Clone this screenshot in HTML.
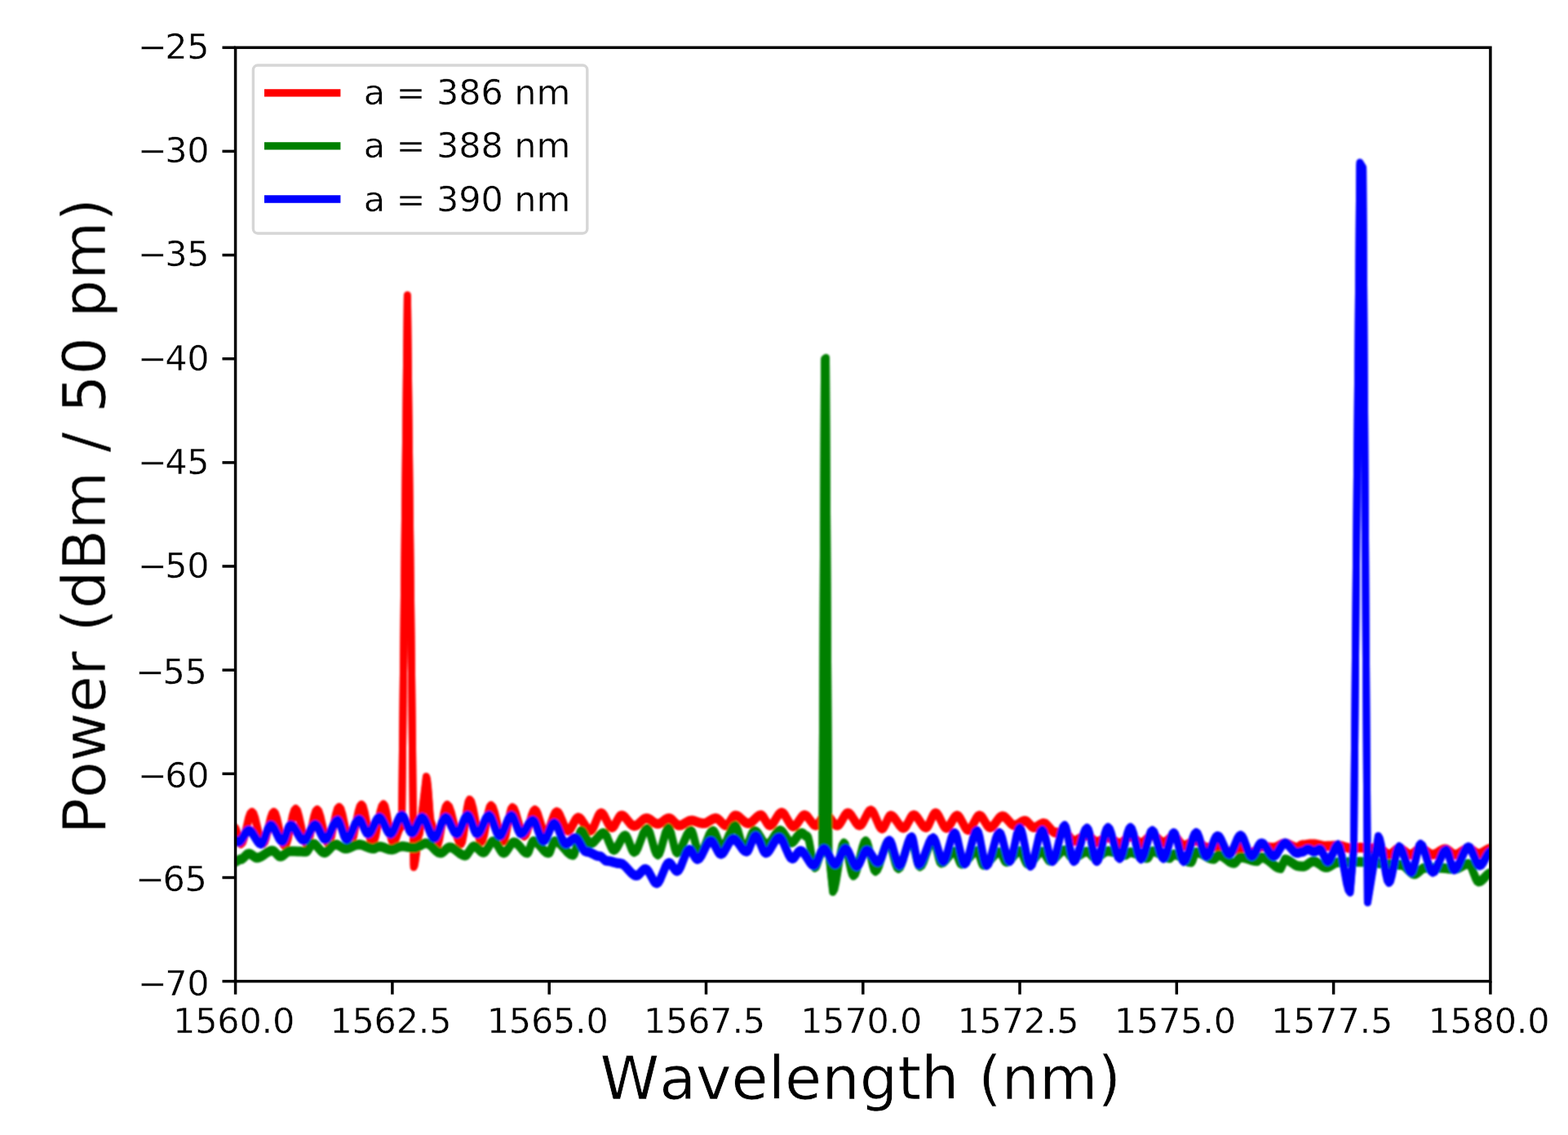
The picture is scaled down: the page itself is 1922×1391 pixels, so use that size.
<!DOCTYPE html>
<html lang="en"><head><meta charset="utf-8"><title>Power spectrum vs wavelength</title>
<style>
html,body{margin:0;padding:0;background:#fff;}
body{width:1922px;height:1391px;overflow:hidden;}
svg{display:block;}
text{font-family:"DejaVu Sans","Liberation Sans",sans-serif;fill:#000;}
.tk{font-size:43.0px;letter-spacing:-0.25px;stroke:#fff;stroke-width:0.4px;paint-order:fill stroke;}
.lg{font-size:43.0px;letter-spacing:-0.12px;stroke:#fff;stroke-width:0.4px;paint-order:fill stroke;}
.lb{font-size:73.4px;font-kerning:none;stroke:#fff;stroke-width:0.7px;paint-order:fill stroke;}
.sp{stroke:#000;stroke-width:3.50;fill:none;stroke-linecap:square;}
.t{stroke:#000;stroke-width:3.50;fill:none;}
.c{fill:none;stroke-width:9.00;stroke-linejoin:round;stroke-linecap:butt;}
</style></head><body>
<svg width="1922" height="1391" viewBox="0 0 1922 1391" role="img" aria-label="Power spectrum versus wavelength">
<defs><clipPath id="ax"><rect x="288.6" y="58.3" width="1538.3" height="1144.3"/></clipPath>
<filter id="soft" x="-2%" y="-2%" width="104%" height="104%"><feGaussianBlur stdDeviation="1.1"/></filter>
<filter id="soft2" x="-2%" y="-2%" width="104%" height="104%"><feGaussianBlur stdDeviation="0.75"/></filter></defs>
<rect width="1922" height="1391" fill="#fff"/>
<g filter="url(#soft)">
<g clip-path="url(#ax)">
<path class="c" stroke="#ff0000" d="M287.0 1013.5 L287.5 1013.5 L288.7 1014.5 L289.9 1017.3 L291.4 1022.7 L293.0 1028.2 L294.2 1031.0 L295.4 1032.0 L297.4 1029.9 L299.4 1024.2 L302.1 1013.2 L304.7 1002.1 L306.7 996.4 L308.8 994.4 L310.8 996.4 L312.8 1002.1 L315.5 1013.2 L318.2 1024.2 L320.2 1029.9 L322.2 1032.0 L324.3 1029.9 L326.3 1024.2 L328.9 1013.2 L331.6 1002.1 L333.6 996.4 L335.6 994.4 L337.6 996.6 L339.6 1002.7 L342.3 1014.4 L345.0 1026.2 L347.0 1032.3 L349.0 1034.5 L351.0 1032.1 L353.1 1025.4 L355.8 1012.6 L358.4 999.7 L360.5 993.0 L362.5 990.6 L364.5 992.9 L366.4 999.2 L369.1 1011.3 L371.7 1023.5 L373.7 1029.7 L375.6 1032.0 L377.6 1029.8 L379.6 1023.7 L382.2 1011.8 L384.8 1000.0 L386.8 993.8 L388.8 991.6 L390.8 993.8 L392.8 999.8 L395.5 1011.5 L398.2 1023.2 L400.2 1029.2 L402.2 1031.3 L404.3 1029.0 L406.3 1022.5 L408.9 1009.9 L411.6 997.3 L413.6 990.7 L415.6 988.4 L417.7 990.7 L419.8 997.3 L422.5 1009.9 L425.2 1022.5 L427.3 1029.0 L429.4 1031.3 L431.4 1028.8 L433.5 1021.9 L436.2 1008.4 L439.0 994.9 L441.1 987.9 L443.1 985.4 L445.1 987.9 L447.1 994.9 L449.8 1008.4 L452.5 1021.9 L454.5 1028.8 L456.5 1031.3 L458.5 1028.8 L460.6 1021.8 L463.2 1008.2 L465.9 994.6 L468.0 987.5 L470.0 985.0 L471.8 987.5 L473.6 994.3 L475.9 1007.6 L478.3 1020.8 L480.1 1027.6 L481.9 1030.1 L483.5 1029.0 L485.1 1026.1 L487.2 1020.3 L489.3 1014.5 L490.9 1011.6 L492.5 1010.5 L499.4 361.4 L507.1 1060.0 L508.2 1057.7 L509.3 1051.4 L510.8 1039.2 L512.3 1027.1 L513.4 1020.8 L514.5 1018.5 L522.5 951.4 L523.5 954.5 L524.5 963.2 L525.8 979.9 L527.0 996.7 L528.0 1005.4 L529.0 1008.5 L529.8 1010.1 L530.6 1014.4 L531.8 1022.8 L532.9 1031.1 L533.7 1035.4 L534.5 1037.0 L536.5 1034.2 L538.6 1026.4 L541.3 1011.3 L544.0 996.2 L546.1 988.4 L548.1 985.6 L550.7 988.2 L553.2 995.2 L556.6 1008.8 L559.9 1022.4 L562.5 1029.5 L565.0 1032.0 L566.6 1029.1 L568.2 1021.1 L570.3 1005.7 L572.4 990.2 L574.0 982.3 L575.6 979.4 L577.8 982.1 L579.9 989.7 L582.8 1004.4 L585.7 1019.2 L587.8 1026.7 L590.0 1029.5 L591.8 1027.1 L593.6 1020.6 L595.9 1007.9 L598.3 995.2 L600.1 988.6 L601.9 986.3 L604.1 988.6 L606.4 995.1 L609.4 1007.6 L612.4 1020.1 L614.6 1026.5 L616.9 1028.8 L618.6 1026.7 L620.2 1020.6 L622.5 1008.8 L624.8 997.0 L626.4 991.0 L628.1 988.8 L630.3 990.6 L632.4 995.7 L635.3 1005.7 L638.2 1015.6 L640.3 1020.8 L642.5 1022.6 L644.5 1020.9 L646.4 1016.2 L649.1 1007.1 L651.7 998.0 L653.7 993.3 L655.6 991.6 L657.6 993.2 L659.6 997.5 L662.2 1005.9 L664.8 1014.2 L666.8 1018.5 L668.8 1020.1 L670.8 1018.7 L672.9 1014.7 L675.6 1006.9 L678.4 999.2 L680.4 995.2 L682.5 993.8 L684.6 995.0 L686.6 998.4 L689.4 1005.1 L692.1 1011.7 L694.2 1015.1 L696.2 1016.4 L698.1 1015.5 L700.0 1013.1 L702.5 1008.5 L705.0 1003.9 L706.9 1001.5 L708.8 1000.6 L711.0 1001.5 L713.2 1003.9 L716.2 1008.5 L719.2 1013.1 L721.5 1015.5 L723.8 1016.4 L725.7 1015.2 L727.7 1012.0 L730.3 1005.7 L732.9 999.4 L734.9 996.2 L736.9 995.0 L738.8 996.0 L740.8 998.6 L743.4 1003.8 L746.1 1009.0 L748.0 1011.6 L750.0 1012.6 L751.8 1011.8 L753.6 1009.6 L755.9 1005.2 L758.3 1000.9 L760.1 998.7 L761.9 997.9 L764.2 998.6 L766.6 1000.5 L769.7 1004.3 L772.8 1008.1 L775.2 1010.0 L777.5 1010.7 L779.8 1010.2 L782.0 1008.8 L785.0 1006.0 L788.0 1003.2 L790.2 1001.8 L792.5 1001.3 L794.6 1001.7 L796.6 1002.7 L799.4 1004.8 L802.1 1006.8 L804.2 1007.8 L806.2 1008.2 L808.3 1007.8 L810.4 1006.8 L813.1 1004.8 L815.9 1002.7 L817.9 1001.7 L820.0 1001.3 L821.9 1001.8 L823.8 1003.1 L826.2 1005.7 L828.8 1008.3 L830.6 1009.6 L832.5 1010.1 L834.8 1009.8 L837.0 1008.9 L840.0 1007.1 L843.0 1005.4 L845.2 1004.5 L847.5 1004.1 L849.8 1004.3 L852.0 1004.9 L855.0 1005.9 L858.0 1006.9 L860.2 1007.4 L862.5 1007.6 L864.8 1007.3 L867.0 1006.3 L870.0 1004.4 L873.0 1002.6 L875.2 1001.6 L877.5 1001.3 L879.4 1001.8 L881.2 1003.1 L883.8 1005.7 L886.2 1008.3 L888.1 1009.6 L890.0 1010.1 L891.7 1009.4 L893.4 1007.6 L895.6 1004.0 L897.9 1000.4 L899.6 998.6 L901.2 997.9 L903.7 998.4 L906.1 999.9 L909.4 1002.8 L912.6 1005.6 L915.1 1007.1 L917.5 1007.6 L919.8 1007.1 L922.0 1005.5 L925.0 1002.6 L928.0 999.6 L930.2 998.1 L932.5 997.5 L934.2 998.2 L935.9 1000.1 L938.1 1003.8 L940.4 1007.5 L942.1 1009.4 L943.8 1010.1 L945.9 1009.2 L948.1 1006.9 L950.9 1002.2 L953.8 997.6 L956.0 995.3 L958.1 994.4 L960.3 995.3 L962.4 997.9 L965.3 1002.9 L968.2 1007.9 L970.3 1010.4 L972.5 1011.4 L974.6 1010.6 L976.6 1008.5 L979.4 1004.4 L982.1 1000.4 L984.2 998.3 L986.2 997.5 L988.3 998.2 L990.4 1000.1 L993.1 1003.8 L995.9 1007.5 L997.9 1009.4 L1000.0 1010.1 L1001.8 1009.4 L1003.6 1007.4 L1005.9 1003.5 L1008.3 999.6 L1010.1 997.6 L1011.9 996.9 L1014.0 997.6 L1016.2 999.6 L1019.1 1003.5 L1021.9 1007.4 L1024.1 1009.4 L1026.2 1010.1 L1028.2 1009.3 L1030.2 1007.0 L1032.8 1002.6 L1035.4 998.1 L1037.4 995.8 L1039.4 995.0 L1041.5 995.8 L1043.7 998.1 L1046.6 1002.6 L1049.4 1007.0 L1051.6 1009.3 L1053.8 1010.1 L1055.8 1009.1 L1057.9 1006.3 L1060.6 1001.0 L1063.4 995.7 L1065.4 992.9 L1067.5 991.9 L1069.6 993.1 L1071.6 996.4 L1074.4 1002.9 L1077.1 1009.3 L1079.2 1012.7 L1081.2 1013.9 L1082.8 1013.0 L1084.4 1010.6 L1086.6 1006.0 L1088.7 1001.4 L1090.3 999.0 L1091.9 998.1 L1094.2 999.0 L1096.6 1001.3 L1099.7 1005.7 L1102.8 1010.1 L1105.2 1012.4 L1107.5 1013.2 L1109.4 1012.4 L1111.2 1010.0 L1113.8 1005.4 L1116.2 1000.8 L1118.1 998.4 L1120.0 997.5 L1122.2 998.3 L1124.5 1000.6 L1127.5 1005.1 L1130.5 1009.5 L1132.8 1011.8 L1135.0 1012.6 L1136.8 1011.6 L1138.6 1009.0 L1140.9 1003.8 L1143.3 998.6 L1145.1 996.0 L1146.9 995.0 L1148.8 996.0 L1150.8 998.8 L1153.4 1004.1 L1156.1 1009.5 L1158.0 1012.2 L1160.0 1013.2 L1162.0 1012.4 L1163.9 1010.1 L1166.6 1005.7 L1169.2 1001.3 L1171.2 999.0 L1173.1 998.1 L1175.2 999.1 L1177.2 1001.8 L1180.0 1006.9 L1182.8 1012.1 L1184.8 1014.8 L1186.9 1015.7 L1188.9 1014.8 L1191.0 1012.1 L1193.8 1006.9 L1196.5 1001.8 L1198.6 999.1 L1200.6 998.1 L1202.6 998.9 L1204.6 1001.1 L1207.2 1005.4 L1209.8 1009.6 L1211.8 1011.8 L1213.8 1012.6 L1216.0 1011.8 L1218.2 1009.8 L1221.2 1005.7 L1224.2 1001.6 L1226.5 999.5 L1228.8 998.8 L1231.0 999.4 L1233.2 1001.1 L1236.2 1004.4 L1239.2 1007.8 L1241.5 1009.5 L1243.8 1010.1 L1245.6 1009.8 L1247.5 1008.9 L1250.0 1007.2 L1252.5 1005.6 L1254.4 1004.7 L1256.2 1004.4 L1257.9 1004.8 L1259.6 1006.1 L1261.9 1008.5 L1264.1 1010.9 L1265.8 1012.2 L1267.5 1012.6 L1269.3 1012.3 L1271.1 1011.6 L1273.4 1010.1 L1275.8 1008.6 L1277.6 1007.8 L1279.4 1007.5 L1281.5 1008.1 L1283.7 1009.9 L1286.6 1013.2 L1289.4 1016.5 L1291.6 1018.2 L1293.8 1018.9 L1295.4 1018.8 L1297.1 1018.8 L1299.4 1018.7 L1301.6 1018.6 L1303.3 1018.5 L1305.0 1018.5 L1306.7 1019.1 L1308.4 1020.7 L1310.6 1023.8 L1312.9 1026.9 L1314.6 1028.5 L1316.2 1029.1 L1318.7 1028.8 L1321.1 1027.7 L1324.4 1025.7 L1327.6 1023.7 L1330.1 1022.6 L1332.5 1022.2 L1334.3 1022.7 L1336.1 1023.9 L1338.4 1026.3 L1340.8 1028.7 L1342.6 1029.9 L1344.4 1030.4 L1346.4 1030.1 L1348.5 1029.2 L1351.2 1027.6 L1354.0 1025.9 L1356.1 1025.1 L1358.1 1024.8 L1360.3 1025.2 L1362.4 1026.3 L1365.3 1028.5 L1368.2 1030.7 L1370.3 1031.8 L1372.5 1032.2 L1374.5 1031.8 L1376.4 1030.4 L1379.1 1027.9 L1381.7 1025.3 L1383.7 1024.0 L1385.6 1023.5 L1387.6 1023.9 L1389.6 1025.2 L1392.2 1027.6 L1394.8 1030.0 L1396.8 1031.2 L1398.8 1031.6 L1400.8 1031.1 L1402.9 1029.7 L1405.6 1026.9 L1408.4 1024.2 L1410.4 1022.8 L1412.5 1022.2 L1414.6 1022.7 L1416.6 1024.1 L1419.4 1026.6 L1422.1 1029.2 L1424.2 1030.5 L1426.2 1031.0 L1428.1 1030.6 L1430.0 1029.5 L1432.5 1027.2 L1435.0 1025.0 L1436.9 1023.9 L1438.8 1023.5 L1440.6 1024.1 L1442.5 1025.8 L1445.0 1029.1 L1447.5 1032.4 L1449.4 1034.1 L1451.2 1034.8 L1453.5 1034.4 L1455.8 1033.5 L1458.8 1031.6 L1461.8 1029.8 L1464.0 1028.8 L1466.2 1028.5 L1468.1 1029.0 L1470.0 1030.3 L1472.5 1032.9 L1475.0 1035.4 L1476.9 1036.8 L1478.8 1037.2 L1480.8 1037.2 L1482.9 1037.0 L1485.6 1036.6 L1488.4 1036.3 L1490.4 1036.1 L1492.5 1036.0 L1494.7 1036.3 L1496.8 1037.3 L1499.7 1039.1 L1502.6 1041.0 L1504.7 1041.9 L1506.9 1042.2 L1508.9 1042.0 L1511.0 1041.2 L1513.8 1039.8 L1516.5 1038.3 L1518.6 1037.5 L1520.6 1037.2 L1522.7 1037.6 L1524.8 1038.5 L1527.5 1040.4 L1530.2 1042.2 L1532.3 1043.2 L1534.4 1043.5 L1536.2 1043.1 L1537.9 1042.0 L1540.3 1039.8 L1542.7 1037.5 L1544.5 1036.4 L1546.2 1036.0 L1548.5 1036.1 L1550.8 1036.3 L1553.8 1036.6 L1556.8 1037.0 L1559.0 1037.2 L1561.2 1037.2 L1563.3 1037.0 L1565.4 1036.2 L1568.1 1034.8 L1570.9 1033.3 L1572.9 1032.5 L1575.0 1032.2 L1577.2 1032.5 L1579.5 1033.3 L1582.5 1034.8 L1585.5 1036.2 L1587.8 1037.0 L1590.0 1037.2 L1590.9 1037.1 L1591.9 1036.6 L1593.1 1035.7 L1594.4 1034.8 L1595.3 1034.3 L1596.2 1034.1 L1598.1 1034.1 L1600.0 1033.9 L1602.5 1033.5 L1605.0 1033.1 L1606.9 1032.9 L1608.8 1032.9 L1611.2 1033.0 L1613.6 1033.4 L1616.9 1034.1 L1620.1 1034.9 L1622.6 1035.2 L1625.0 1035.4 L1627.2 1035.3 L1629.5 1035.2 L1632.5 1035.1 L1635.5 1034.9 L1637.8 1034.8 L1640.0 1034.8 L1642.2 1034.9 L1644.5 1035.4 L1647.5 1036.3 L1650.5 1037.2 L1652.8 1037.7 L1655.0 1037.9 L1656.9 1037.8 L1658.8 1037.7 L1661.2 1037.6 L1663.8 1037.4 L1665.6 1037.3 L1667.5 1037.2 L1669.0 1037.3 L1670.5 1037.5 L1672.5 1037.9 L1674.5 1038.2 L1676.0 1038.4 L1677.5 1038.5 L1679.3 1038.4 L1681.1 1038.2 L1683.4 1037.9 L1685.8 1037.5 L1687.6 1037.3 L1689.4 1037.2 L1691.3 1037.7 L1693.3 1039.0 L1695.9 1041.5 L1698.6 1044.0 L1700.5 1045.3 L1702.5 1045.8 L1704.4 1045.4 L1706.2 1044.3 L1708.8 1042.1 L1711.2 1040.0 L1713.1 1038.9 L1715.0 1038.5 L1717.1 1038.9 L1719.1 1040.0 L1721.9 1042.1 L1724.6 1044.3 L1726.7 1045.4 L1728.8 1045.8 L1730.6 1045.4 L1732.5 1044.3 L1735.0 1042.1 L1737.5 1040.0 L1739.4 1038.9 L1741.2 1038.5 L1743.5 1038.9 L1745.8 1040.0 L1748.8 1042.1 L1751.8 1044.3 L1754.0 1045.4 L1756.2 1045.8 L1758.5 1045.4 L1760.8 1044.4 L1763.8 1042.4 L1766.8 1040.5 L1769.0 1039.5 L1771.2 1039.1 L1773.1 1039.5 L1775.0 1040.5 L1777.5 1042.4 L1780.0 1044.4 L1781.9 1045.4 L1783.8 1045.8 L1786.2 1045.4 L1788.6 1044.3 L1791.9 1042.1 L1795.1 1040.0 L1797.6 1038.9 L1800.0 1038.5 L1801.9 1038.8 L1803.8 1039.8 L1806.2 1041.6 L1808.8 1043.5 L1810.6 1044.4 L1812.5 1044.8 L1814.8 1044.4 L1817.0 1043.5 L1820.0 1041.6 L1823.0 1039.8 L1825.2 1038.8 L1827.5 1038.5 L1829.0 1038.5"/>
<path class="c" stroke="#ff0000" d="M287.0 1016.5 L287.5 1016.5 L288.7 1017.5 L289.9 1020.3 L291.4 1025.7 L293.0 1031.2 L294.2 1034.0 L295.4 1035.0 L297.4 1032.9 L299.4 1027.2 L302.1 1016.2 L304.7 1005.1 L306.7 999.4 L308.8 997.4 L310.8 999.4 L312.8 1005.1 L315.5 1016.2 L318.2 1027.2 L320.2 1032.9 L322.2 1035.0 L324.3 1032.9 L326.3 1027.2 L328.9 1016.2 L331.6 1005.1 L333.6 999.4 L335.6 997.4 L337.6 999.6 L339.6 1005.7 L342.3 1017.4 L345.0 1029.2 L347.0 1035.3 L349.0 1037.5 L351.0 1035.1 L353.1 1028.4 L355.8 1015.6 L358.4 1002.7 L360.5 996.0 L362.5 993.6 L364.5 995.9 L366.4 1002.2 L369.1 1014.3 L371.7 1026.5 L373.7 1032.7 L375.6 1035.0 L377.6 1032.8 L379.6 1026.7 L382.2 1014.8 L384.8 1003.0 L386.8 996.8 L388.8 994.6 L390.8 996.8 L392.8 1002.8 L395.5 1014.5 L398.2 1026.2 L400.2 1032.2 L402.2 1034.3 L404.3 1032.0 L406.3 1025.5 L408.9 1012.9 L411.6 1000.3 L413.6 993.7 L415.6 991.4 L417.7 993.7 L419.8 1000.3 L422.5 1012.9 L425.2 1025.5 L427.3 1032.0 L429.4 1034.3 L431.4 1031.8 L433.5 1024.9 L436.2 1011.4 L439.0 997.9 L441.1 990.9 L443.1 988.4 L445.1 990.9 L447.1 997.9 L449.8 1011.4 L452.5 1024.9 L454.5 1031.8 L456.5 1034.3 L458.5 1031.8 L460.6 1024.8 L463.2 1011.2 L465.9 997.6 L468.0 990.5 L470.0 988.0 L471.8 990.5 L473.6 997.3 L475.9 1010.6 L478.3 1023.8 L480.1 1030.6 L481.9 1033.1 L483.5 1032.0 L485.1 1029.1 L487.2 1023.3 L489.3 1017.5 L490.9 1014.6 L492.5 1013.5 L499.4 364.4 L507.1 1063.0 L508.2 1060.7 L509.3 1054.4 L510.8 1042.2 L512.3 1030.1 L513.4 1023.8 L514.5 1021.5 L522.5 954.4 L523.5 957.5 L524.5 966.2 L525.8 982.9 L527.0 999.7 L528.0 1008.4 L529.0 1011.5 L529.8 1013.1 L530.6 1017.4 L531.8 1025.8 L532.9 1034.1 L533.7 1038.4 L534.5 1040.0 L536.5 1037.2 L538.6 1029.4 L541.3 1014.3 L544.0 999.2 L546.1 991.4 L548.1 988.6 L550.7 991.2 L553.2 998.2 L556.6 1011.8 L559.9 1025.4 L562.5 1032.5 L565.0 1035.0 L566.6 1032.1 L568.2 1024.1 L570.3 1008.7 L572.4 993.2 L574.0 985.3 L575.6 982.4 L577.8 985.1 L579.9 992.7 L582.8 1007.4 L585.7 1022.2 L587.8 1029.7 L590.0 1032.5 L591.8 1030.1 L593.6 1023.6 L595.9 1010.9 L598.3 998.2 L600.1 991.6 L601.9 989.3 L604.1 991.6 L606.4 998.1 L609.4 1010.6 L612.4 1023.1 L614.6 1029.5 L616.9 1031.8 L618.6 1029.7 L620.2 1023.6 L622.5 1011.8 L624.8 1000.0 L626.4 994.0 L628.1 991.8 L630.3 993.6 L632.4 998.7 L635.3 1008.7 L638.2 1018.6 L640.3 1023.8 L642.5 1025.6 L644.5 1023.9 L646.4 1019.2 L649.1 1010.1 L651.7 1001.0 L653.7 996.3 L655.6 994.6 L657.6 996.2 L659.6 1000.5 L662.2 1008.9 L664.8 1017.2 L666.8 1021.5 L668.8 1023.1 L670.8 1021.7 L672.9 1017.7 L675.6 1009.9 L678.4 1002.2 L680.4 998.2 L682.5 996.8 L684.6 998.0 L686.6 1001.4 L689.4 1008.1 L692.1 1014.7 L694.2 1018.1 L696.2 1019.4 L698.1 1018.5 L700.0 1016.1 L702.5 1011.5 L705.0 1006.9 L706.9 1004.5 L708.8 1003.6 L711.0 1004.5 L713.2 1006.9 L716.2 1011.5 L719.2 1016.1 L721.5 1018.5 L723.8 1019.4 L725.7 1018.2 L727.7 1015.0 L730.3 1008.7 L732.9 1002.4 L734.9 999.2 L736.9 998.0 L738.8 999.0 L740.8 1001.6 L743.4 1006.8 L746.1 1012.0 L748.0 1014.6 L750.0 1015.6 L751.8 1014.8 L753.6 1012.6 L755.9 1008.2 L758.3 1003.9 L760.1 1001.7 L761.9 1000.9 L764.2 1001.6 L766.6 1003.5 L769.7 1007.3 L772.8 1011.1 L775.2 1013.0 L777.5 1013.7 L779.8 1013.2 L782.0 1011.8 L785.0 1009.0 L788.0 1006.2 L790.2 1004.8 L792.5 1004.3 L794.6 1004.7 L796.6 1005.7 L799.4 1007.8 L802.1 1009.8 L804.2 1010.8 L806.2 1011.2 L808.3 1010.8 L810.4 1009.8 L813.1 1007.8 L815.9 1005.7 L817.9 1004.7 L820.0 1004.3 L821.9 1004.8 L823.8 1006.1 L826.2 1008.7 L828.8 1011.3 L830.6 1012.6 L832.5 1013.1 L834.8 1012.8 L837.0 1011.9 L840.0 1010.1 L843.0 1008.4 L845.2 1007.5 L847.5 1007.1 L849.8 1007.3 L852.0 1007.9 L855.0 1008.9 L858.0 1009.9 L860.2 1010.4 L862.5 1010.6 L864.8 1010.3 L867.0 1009.3 L870.0 1007.4 L873.0 1005.6 L875.2 1004.6 L877.5 1004.3 L879.4 1004.8 L881.2 1006.1 L883.8 1008.7 L886.2 1011.3 L888.1 1012.6 L890.0 1013.1 L891.7 1012.4 L893.4 1010.6 L895.6 1007.0 L897.9 1003.4 L899.6 1001.6 L901.2 1000.9 L903.7 1001.4 L906.1 1002.9 L909.4 1005.8 L912.6 1008.6 L915.1 1010.1 L917.5 1010.6 L919.8 1010.1 L922.0 1008.5 L925.0 1005.6 L928.0 1002.6 L930.2 1001.1 L932.5 1000.5 L934.2 1001.2 L935.9 1003.1 L938.1 1006.8 L940.4 1010.5 L942.1 1012.4 L943.8 1013.1 L945.9 1012.2 L948.1 1009.9 L950.9 1005.2 L953.8 1000.6 L956.0 998.3 L958.1 997.4 L960.3 998.3 L962.4 1000.9 L965.3 1005.9 L968.2 1010.9 L970.3 1013.4 L972.5 1014.4 L974.6 1013.6 L976.6 1011.5 L979.4 1007.4 L982.1 1003.4 L984.2 1001.3 L986.2 1000.5 L988.3 1001.2 L990.4 1003.1 L993.1 1006.8 L995.9 1010.5 L997.9 1012.4 L1000.0 1013.1 L1001.8 1012.4 L1003.6 1010.4 L1005.9 1006.5 L1008.3 1002.6 L1010.1 1000.6 L1011.9 999.9 L1014.0 1000.6 L1016.2 1002.6 L1019.1 1006.5 L1021.9 1010.4 L1024.1 1012.4 L1026.2 1013.1 L1028.2 1012.3 L1030.2 1010.0 L1032.8 1005.6 L1035.4 1001.1 L1037.4 998.8 L1039.4 998.0 L1041.5 998.8 L1043.7 1001.1 L1046.6 1005.6 L1049.4 1010.0 L1051.6 1012.3 L1053.8 1013.1 L1055.8 1012.1 L1057.9 1009.3 L1060.6 1004.0 L1063.4 998.7 L1065.4 995.9 L1067.5 994.9 L1069.6 996.1 L1071.6 999.4 L1074.4 1005.9 L1077.1 1012.3 L1079.2 1015.7 L1081.2 1016.9 L1082.8 1016.0 L1084.4 1013.6 L1086.6 1009.0 L1088.7 1004.4 L1090.3 1002.0 L1091.9 1001.1 L1094.2 1002.0 L1096.6 1004.3 L1099.7 1008.7 L1102.8 1013.1 L1105.2 1015.4 L1107.5 1016.2 L1109.4 1015.4 L1111.2 1013.0 L1113.8 1008.4 L1116.2 1003.8 L1118.1 1001.4 L1120.0 1000.5 L1122.2 1001.3 L1124.5 1003.6 L1127.5 1008.1 L1130.5 1012.5 L1132.8 1014.8 L1135.0 1015.6 L1136.8 1014.6 L1138.6 1012.0 L1140.9 1006.8 L1143.3 1001.6 L1145.1 999.0 L1146.9 998.0 L1148.8 999.0 L1150.8 1001.8 L1153.4 1007.1 L1156.1 1012.5 L1158.0 1015.2 L1160.0 1016.2 L1162.0 1015.4 L1163.9 1013.1 L1166.6 1008.7 L1169.2 1004.3 L1171.2 1002.0 L1173.1 1001.1 L1175.2 1002.1 L1177.2 1004.8 L1180.0 1009.9 L1182.8 1015.1 L1184.8 1017.8 L1186.9 1018.7 L1188.9 1017.8 L1191.0 1015.1 L1193.8 1009.9 L1196.5 1004.8 L1198.6 1002.1 L1200.6 1001.1 L1202.6 1001.9 L1204.6 1004.1 L1207.2 1008.4 L1209.8 1012.6 L1211.8 1014.8 L1213.8 1015.6 L1216.0 1014.8 L1218.2 1012.8 L1221.2 1008.7 L1224.2 1004.6 L1226.5 1002.5 L1228.8 1001.8 L1231.0 1002.4 L1233.2 1004.1 L1236.2 1007.4 L1239.2 1010.8 L1241.5 1012.5 L1243.8 1013.1 L1245.6 1012.8 L1247.5 1011.9 L1250.0 1010.2 L1252.5 1008.6 L1254.4 1007.7 L1256.2 1007.4 L1257.9 1007.8 L1259.6 1009.1 L1261.9 1011.5 L1264.1 1013.9 L1265.8 1015.2 L1267.5 1015.6 L1269.3 1015.3 L1271.1 1014.6 L1273.4 1013.1 L1275.8 1011.6 L1277.6 1010.8 L1279.4 1010.5 L1281.5 1011.1 L1283.7 1012.9 L1286.6 1016.2 L1289.4 1019.5 L1291.6 1021.2 L1293.8 1021.9 L1295.4 1021.8 L1297.1 1021.8 L1299.4 1021.7 L1301.6 1021.6 L1303.3 1021.5 L1305.0 1021.5 L1306.7 1022.1 L1308.4 1023.7 L1310.6 1026.8 L1312.9 1029.9 L1314.6 1031.5 L1316.2 1032.1 L1318.7 1031.8 L1321.1 1030.7 L1324.4 1028.7 L1327.6 1026.7 L1330.1 1025.6 L1332.5 1025.2 L1334.3 1025.7 L1336.1 1026.9 L1338.4 1029.3 L1340.8 1031.7 L1342.6 1032.9 L1344.4 1033.4 L1346.4 1033.1 L1348.5 1032.2 L1351.2 1030.6 L1354.0 1028.9 L1356.1 1028.1 L1358.1 1027.8 L1360.3 1028.2 L1362.4 1029.3 L1365.3 1031.5 L1368.2 1033.7 L1370.3 1034.8 L1372.5 1035.2 L1374.5 1034.8 L1376.4 1033.4 L1379.1 1030.9 L1381.7 1028.3 L1383.7 1027.0 L1385.6 1026.5 L1387.6 1026.9 L1389.6 1028.2 L1392.2 1030.6 L1394.8 1033.0 L1396.8 1034.2 L1398.8 1034.6 L1400.8 1034.1 L1402.9 1032.7 L1405.6 1029.9 L1408.4 1027.2 L1410.4 1025.8 L1412.5 1025.2 L1414.6 1025.7 L1416.6 1027.1 L1419.4 1029.6 L1422.1 1032.2 L1424.2 1033.5 L1426.2 1034.0 L1428.1 1033.6 L1430.0 1032.5 L1432.5 1030.2 L1435.0 1028.0 L1436.9 1026.9 L1438.8 1026.5 L1440.6 1027.1 L1442.5 1028.8 L1445.0 1032.1 L1447.5 1035.4 L1449.4 1037.1 L1451.2 1037.8 L1453.5 1037.4 L1455.8 1036.5 L1458.8 1034.6 L1461.8 1032.8 L1464.0 1031.8 L1466.2 1031.5 L1468.1 1032.0 L1470.0 1033.3 L1472.5 1035.9 L1475.0 1038.4 L1476.9 1039.8 L1478.8 1040.2 L1480.8 1040.2 L1482.9 1040.0 L1485.6 1039.6 L1488.4 1039.3 L1490.4 1039.1 L1492.5 1039.0 L1494.7 1039.3 L1496.8 1040.3 L1499.7 1042.1 L1502.6 1044.0 L1504.7 1044.9 L1506.9 1045.2 L1508.9 1045.0 L1511.0 1044.2 L1513.8 1042.8 L1516.5 1041.3 L1518.6 1040.5 L1520.6 1040.2 L1522.7 1040.6 L1524.8 1041.5 L1527.5 1043.4 L1530.2 1045.2 L1532.3 1046.2 L1534.4 1046.5 L1536.2 1046.1 L1537.9 1045.0 L1540.3 1042.8 L1542.7 1040.5 L1544.5 1039.4 L1546.2 1039.0 L1548.5 1039.1 L1550.8 1039.3 L1553.8 1039.6 L1556.8 1040.0 L1559.0 1040.2 L1561.2 1040.2 L1563.3 1040.0 L1565.4 1039.2 L1568.1 1037.8 L1570.9 1036.3 L1572.9 1035.5 L1575.0 1035.2 L1577.2 1035.5 L1579.5 1036.3 L1582.5 1037.8 L1585.5 1039.2 L1587.8 1040.0 L1590.0 1040.2 L1590.9 1040.1 L1591.9 1039.6 L1593.1 1038.7 L1594.4 1037.8 L1595.3 1037.3 L1596.2 1037.1 L1598.1 1037.1 L1600.0 1036.9 L1602.5 1036.5 L1605.0 1036.1 L1606.9 1035.9 L1608.8 1035.9 L1611.2 1036.0 L1613.6 1036.4 L1616.9 1037.1 L1620.1 1037.9 L1622.6 1038.2 L1625.0 1038.4 L1627.2 1038.3 L1629.5 1038.2 L1632.5 1038.1 L1635.5 1037.9 L1637.8 1037.8 L1640.0 1037.8 L1642.2 1037.9 L1644.5 1038.4 L1647.5 1039.3 L1650.5 1040.2 L1652.8 1040.7 L1655.0 1040.9 L1656.9 1040.8 L1658.8 1040.7 L1661.2 1040.6 L1663.8 1040.4 L1665.6 1040.3 L1667.5 1040.2 L1669.0 1040.3 L1670.5 1040.5 L1672.5 1040.9 L1674.5 1041.2 L1676.0 1041.4 L1677.5 1041.5 L1679.3 1041.4 L1681.1 1041.2 L1683.4 1040.9 L1685.8 1040.5 L1687.6 1040.3 L1689.4 1040.2 L1691.3 1040.7 L1693.3 1042.0 L1695.9 1044.5 L1698.6 1047.0 L1700.5 1048.3 L1702.5 1048.8 L1704.4 1048.4 L1706.2 1047.3 L1708.8 1045.1 L1711.2 1043.0 L1713.1 1041.9 L1715.0 1041.5 L1717.1 1041.9 L1719.1 1043.0 L1721.9 1045.1 L1724.6 1047.3 L1726.7 1048.4 L1728.8 1048.8 L1730.6 1048.4 L1732.5 1047.3 L1735.0 1045.1 L1737.5 1043.0 L1739.4 1041.9 L1741.2 1041.5 L1743.5 1041.9 L1745.8 1043.0 L1748.8 1045.1 L1751.8 1047.3 L1754.0 1048.4 L1756.2 1048.8 L1758.5 1048.4 L1760.8 1047.4 L1763.8 1045.4 L1766.8 1043.5 L1769.0 1042.5 L1771.2 1042.1 L1773.1 1042.5 L1775.0 1043.5 L1777.5 1045.4 L1780.0 1047.4 L1781.9 1048.4 L1783.8 1048.8 L1786.2 1048.4 L1788.6 1047.3 L1791.9 1045.1 L1795.1 1043.0 L1797.6 1041.9 L1800.0 1041.5 L1801.9 1041.8 L1803.8 1042.8 L1806.2 1044.6 L1808.8 1046.5 L1810.6 1047.4 L1812.5 1047.8 L1814.8 1047.4 L1817.0 1046.5 L1820.0 1044.6 L1823.0 1042.8 L1825.2 1041.8 L1827.5 1041.5 L1829.0 1041.5"/>
<path class="c" stroke="#008000" d="M287.0 1054.8 L287.5 1054.8 L288.6 1054.6 L289.8 1054.1 L291.2 1053.2 L292.8 1052.3 L293.9 1051.8 L295.0 1051.6 L296.5 1051.3 L298.0 1050.2 L300.0 1048.2 L302.0 1046.2 L303.5 1045.1 L305.0 1044.8 L306.5 1045.0 L308.0 1045.8 L310.0 1047.2 L312.0 1048.7 L313.5 1049.5 L315.0 1049.8 L317.8 1049.3 L320.6 1047.9 L324.4 1045.4 L328.1 1042.8 L330.9 1041.5 L333.8 1041.0 L335.2 1041.4 L336.8 1042.5 L338.8 1044.6 L340.8 1046.8 L342.2 1047.9 L343.8 1048.2 L345.4 1047.9 L347.1 1046.9 L349.4 1044.9 L351.6 1043.0 L353.3 1042.0 L355.0 1041.6 L358.0 1041.7 L361.0 1041.8 L365.0 1041.9 L369.0 1042.1 L372.0 1042.2 L375.0 1042.2 L376.3 1041.7 L377.6 1040.2 L379.4 1037.4 L381.1 1034.5 L382.4 1033.0 L383.8 1032.5 L385.8 1033.1 L387.9 1034.8 L390.6 1038.0 L393.4 1041.2 L395.4 1042.9 L397.5 1043.5 L399.6 1043.0 L401.6 1041.4 L404.4 1038.5 L407.1 1035.6 L409.2 1034.0 L411.2 1033.5 L413.1 1033.8 L415.0 1034.5 L417.5 1036.0 L420.0 1037.5 L421.9 1038.2 L423.8 1038.5 L426.2 1038.2 L428.6 1037.5 L431.9 1036.0 L435.1 1034.5 L437.6 1033.8 L440.0 1033.5 L442.6 1033.8 L445.2 1034.5 L448.8 1036.0 L452.2 1037.5 L454.9 1038.2 L457.5 1038.5 L458.6 1038.4 L459.8 1038.0 L461.2 1037.2 L462.8 1036.5 L463.9 1036.1 L465.0 1036.0 L467.2 1036.2 L469.5 1036.8 L472.5 1037.9 L475.5 1039.0 L477.8 1039.5 L480.0 1039.8 L481.9 1039.5 L483.8 1038.9 L486.2 1037.7 L488.8 1036.5 L490.6 1035.9 L492.5 1035.7 L494.8 1035.8 L497.0 1036.1 L500.0 1036.6 L503.0 1037.2 L505.2 1037.5 L507.5 1037.6 L509.8 1037.3 L512.0 1036.4 L515.0 1034.8 L518.0 1033.1 L520.2 1032.2 L522.5 1031.9 L525.1 1032.6 L527.8 1034.4 L531.2 1037.9 L534.8 1041.4 L537.4 1043.2 L540.0 1043.8 L541.7 1043.5 L543.4 1042.4 L545.6 1040.4 L547.9 1038.3 L549.6 1037.3 L551.2 1036.9 L554.1 1037.4 L556.9 1039.0 L560.6 1041.9 L564.4 1044.9 L567.2 1046.4 L570.0 1047.0 L571.7 1046.4 L573.4 1044.6 L575.6 1041.3 L577.9 1038.0 L579.6 1036.3 L581.2 1035.7 L582.9 1036.1 L584.6 1037.2 L586.9 1039.4 L589.1 1041.7 L590.8 1042.8 L592.5 1043.2 L594.4 1042.5 L596.2 1040.4 L598.8 1036.3 L601.2 1032.2 L603.1 1030.2 L605.0 1029.4 L606.9 1030.2 L608.8 1032.4 L611.2 1036.6 L613.8 1040.9 L615.6 1043.1 L617.5 1043.8 L619.4 1043.1 L621.2 1041.1 L623.8 1037.2 L626.2 1033.4 L628.1 1031.4 L630.0 1030.7 L632.4 1031.4 L634.9 1033.4 L638.1 1037.2 L641.4 1041.1 L643.8 1043.1 L646.2 1043.8 L647.4 1043.1 L648.5 1040.9 L650.0 1036.6 L651.5 1032.4 L652.6 1030.2 L653.8 1029.4 L656.6 1030.2 L659.4 1032.4 L663.1 1036.6 L666.9 1040.9 L669.7 1043.1 L672.5 1043.8 L673.6 1043.1 L674.8 1040.9 L676.2 1036.6 L677.8 1032.4 L678.9 1030.2 L680.0 1029.4 L683.4 1030.3 L686.8 1032.9 L691.2 1037.9 L695.8 1042.9 L699.1 1045.4 L702.5 1046.3 L704.0 1044.7 L705.5 1040.3 L707.5 1031.6 L709.5 1023.0 L711.0 1018.5 L712.5 1016.9 L714.2 1017.7 L715.9 1020.1 L718.1 1024.6 L720.4 1029.1 L722.1 1031.4 L723.8 1032.2 L726.2 1031.5 L728.6 1029.6 L731.9 1025.8 L735.1 1022.0 L737.6 1020.1 L740.0 1019.4 L741.9 1020.5 L743.8 1023.7 L746.2 1029.8 L748.8 1035.8 L750.6 1039.0 L752.5 1040.1 L754.6 1039.1 L756.6 1036.5 L759.4 1031.3 L762.1 1026.1 L764.2 1023.5 L766.2 1022.5 L767.9 1023.6 L769.6 1026.7 L771.9 1032.6 L774.1 1038.5 L775.8 1041.5 L777.5 1042.6 L779.8 1041.1 L782.2 1036.8 L785.3 1028.5 L788.4 1020.2 L790.8 1015.9 L793.1 1014.4 L795.1 1016.1 L797.1 1020.9 L799.7 1030.1 L802.3 1039.3 L804.3 1044.0 L806.2 1045.7 L808.2 1044.0 L810.2 1039.1 L812.8 1029.8 L815.4 1020.4 L817.4 1015.5 L819.4 1013.8 L821.0 1015.4 L822.6 1019.8 L824.7 1028.5 L826.8 1037.2 L828.4 1041.6 L830.0 1043.2 L832.5 1041.8 L835.1 1037.8 L838.4 1030.1 L841.8 1022.3 L844.3 1018.3 L846.9 1016.9 L848.5 1018.4 L850.1 1022.6 L852.2 1030.8 L854.3 1039.0 L855.9 1043.2 L857.5 1044.8 L859.9 1043.2 L862.4 1039.0 L865.6 1030.8 L868.9 1022.6 L871.3 1018.4 L873.8 1016.9 L875.4 1017.9 L877.1 1020.8 L879.4 1026.5 L881.6 1032.1 L883.3 1035.0 L885.0 1036.0 L887.4 1034.6 L889.9 1030.8 L893.1 1023.3 L896.4 1015.9 L898.8 1012.0 L901.2 1010.6 L902.9 1012.2 L904.6 1016.4 L906.9 1024.6 L909.1 1032.8 L910.8 1037.0 L912.5 1038.5 L914.4 1037.3 L916.2 1034.0 L918.8 1027.7 L921.2 1021.4 L923.1 1018.1 L925.0 1016.9 L927.2 1017.8 L929.5 1020.3 L932.5 1025.2 L935.5 1030.1 L937.8 1032.6 L940.0 1033.5 L942.4 1032.6 L944.9 1029.9 L948.1 1024.9 L951.4 1019.8 L953.8 1017.2 L956.2 1016.3 L958.3 1017.1 L960.4 1019.3 L963.1 1023.6 L965.9 1028.0 L967.9 1030.2 L970.0 1031.0 L971.9 1030.4 L973.8 1028.6 L976.2 1025.2 L978.8 1021.8 L980.6 1020.0 L982.5 1019.4 L983.5 1019.6 L984.6 1020.2 L985.9 1021.4 L987.3 1022.7 L988.3 1023.3 L989.4 1023.5 L990.8 1025.6 L992.2 1031.3 L994.1 1042.4 L995.9 1053.5 L997.3 1059.3 L998.8 1061.3 L1000.1 1060.4 L1001.5 1057.7 L1003.2 1052.4 L1005.0 1047.2 L1006.4 1044.5 L1007.8 1043.5 L1010.6 439.8 L1012.5 438.2 L1015.8 1043.5 L1020.8 1090.6 L1022.8 1087.4 L1024.8 1078.5 L1027.6 1061.3 L1030.3 1044.0 L1032.3 1035.1 L1034.4 1031.9 L1036.2 1034.0 L1037.9 1040.0 L1040.3 1051.6 L1042.7 1063.2 L1044.5 1069.2 L1046.2 1071.3 L1048.5 1069.1 L1050.8 1062.7 L1053.8 1050.4 L1056.8 1038.0 L1059.0 1031.7 L1061.2 1029.4 L1063.0 1031.4 L1064.8 1036.9 L1067.2 1047.6 L1069.6 1058.2 L1071.3 1063.7 L1073.1 1065.7 L1075.5 1063.8 L1077.8 1058.6 L1080.9 1048.4 L1084.1 1038.2 L1086.4 1032.9 L1088.8 1031.0 L1090.6 1032.7 L1092.5 1037.5 L1095.0 1046.8 L1097.5 1056.1 L1099.4 1060.9 L1101.2 1062.6 L1103.5 1060.7 L1105.8 1055.6 L1108.8 1045.5 L1111.8 1035.5 L1114.0 1030.4 L1116.2 1028.5 L1117.9 1030.2 L1119.6 1035.0 L1121.9 1044.3 L1124.1 1053.6 L1125.8 1058.4 L1127.5 1060.1 L1129.9 1058.4 L1132.4 1053.6 L1135.6 1044.3 L1138.9 1035.0 L1141.3 1030.2 L1143.8 1028.5 L1145.2 1030.0 L1146.8 1034.2 L1148.8 1042.2 L1150.8 1050.3 L1152.2 1054.5 L1153.8 1056.0 L1156.2 1055.3 L1158.6 1053.2 L1161.9 1049.1 L1165.1 1045.1 L1167.6 1043.0 L1170.0 1042.2 L1171.3 1043.1 L1172.6 1045.3 L1174.4 1049.8 L1176.1 1054.2 L1177.4 1056.4 L1178.8 1057.2 L1181.6 1056.4 L1184.4 1054.0 L1188.1 1049.4 L1191.9 1044.8 L1194.7 1042.5 L1197.5 1041.6 L1198.7 1042.5 L1199.9 1045.1 L1201.6 1050.1 L1203.2 1055.0 L1204.4 1057.6 L1205.6 1058.5 L1208.5 1057.6 L1211.4 1055.3 L1215.3 1050.7 L1219.2 1046.1 L1222.1 1043.7 L1225.0 1042.9 L1226.3 1043.5 L1227.6 1045.3 L1229.4 1048.8 L1231.1 1052.3 L1232.4 1054.1 L1233.8 1054.8 L1236.2 1054.0 L1238.6 1052.0 L1241.9 1048.2 L1245.1 1044.3 L1247.6 1042.3 L1250.0 1041.6 L1251.5 1042.5 L1253.0 1044.8 L1255.0 1049.4 L1257.0 1054.0 L1258.5 1056.4 L1260.0 1057.2 L1262.6 1056.4 L1265.2 1054.2 L1268.8 1049.8 L1272.2 1045.3 L1274.9 1043.1 L1277.5 1042.2 L1279.0 1042.9 L1280.5 1044.6 L1282.5 1047.9 L1284.5 1051.2 L1286.0 1052.9 L1287.5 1053.5 L1290.1 1052.8 L1292.8 1050.8 L1296.2 1047.0 L1299.8 1043.2 L1302.4 1041.2 L1305.0 1040.5 L1306.5 1041.0 L1308.0 1042.4 L1310.0 1045.1 L1312.0 1047.8 L1313.5 1049.2 L1315.0 1049.8 L1317.6 1049.3 L1320.2 1048.2 L1323.8 1046.0 L1327.2 1043.8 L1329.9 1042.7 L1332.5 1042.2 L1334.0 1042.7 L1335.5 1043.8 L1337.5 1046.0 L1339.5 1048.2 L1341.0 1049.3 L1342.5 1049.8 L1344.8 1049.3 L1347.2 1048.1 L1350.3 1045.7 L1353.4 1043.3 L1355.8 1042.1 L1358.1 1041.6 L1361.2 1041.9 L1364.3 1042.6 L1368.4 1044.0 L1372.6 1045.4 L1375.7 1046.1 L1378.8 1046.3 L1379.8 1046.2 L1380.8 1045.7 L1382.2 1044.7 L1383.6 1043.7 L1384.6 1043.2 L1385.6 1043.0 L1388.7 1043.4 L1391.8 1044.5 L1395.9 1046.5 L1400.1 1048.6 L1403.2 1049.7 L1406.2 1050.1 L1407.2 1049.6 L1408.1 1048.4 L1409.4 1045.9 L1410.6 1043.5 L1411.6 1042.2 L1412.5 1041.8 L1415.7 1042.2 L1418.9 1043.5 L1423.1 1045.9 L1427.4 1048.4 L1430.6 1049.6 L1433.8 1050.1 L1438.8 1045.5 L1441.9 1046.0 L1445.1 1047.5 L1449.4 1050.3 L1453.6 1053.1 L1456.8 1054.6 L1460.0 1055.1 L1460.9 1054.4 L1461.9 1052.6 L1463.1 1049.0 L1464.4 1045.5 L1465.3 1043.7 L1466.2 1043.0 L1469.4 1043.5 L1472.6 1044.7 L1476.9 1047.2 L1481.1 1049.6 L1484.3 1050.9 L1487.5 1051.3 L1488.4 1051.1 L1489.4 1050.4 L1490.6 1049.0 L1491.9 1047.7 L1492.8 1047.0 L1493.8 1046.8 L1496.6 1047.3 L1499.4 1048.7 L1503.1 1051.5 L1506.9 1054.4 L1509.7 1055.8 L1512.5 1056.3 L1513.7 1056.0 L1514.9 1054.9 L1516.6 1052.8 L1518.2 1050.7 L1519.4 1049.6 L1520.6 1049.2 L1523.7 1049.5 L1526.8 1050.2 L1530.9 1051.5 L1535.1 1052.9 L1538.2 1053.6 L1541.2 1053.8 L1546.2 1049.2 L1549.8 1050.0 L1553.4 1052.0 L1558.1 1055.9 L1562.9 1059.8 L1566.4 1061.9 L1570.0 1062.6 L1575.0 1051.8 L1577.6 1052.2 L1580.2 1053.5 L1583.8 1055.9 L1587.2 1058.4 L1589.9 1059.6 L1592.5 1060.1 L1593.3 1060.1 L1594.0 1060.2 L1595.1 1060.2 L1596.1 1060.3 L1596.9 1060.4 L1597.6 1060.4 L1599.5 1060.0 L1601.3 1059.1 L1603.8 1057.2 L1606.3 1055.4 L1608.1 1054.5 L1610.0 1054.1 L1612.4 1054.5 L1614.7 1055.7 L1617.9 1057.9 L1621.0 1060.1 L1623.4 1061.2 L1625.8 1061.6 L1627.9 1061.3 L1630.0 1060.3 L1632.9 1058.5 L1635.7 1056.7 L1637.9 1055.7 L1640.0 1055.4 L1644.1 1055.3 L1648.2 1055.2 L1653.8 1055.1 L1659.2 1054.9 L1663.4 1054.8 L1667.5 1054.8 L1672.8 1054.9 L1678.0 1055.3 L1685.0 1056.0 L1692.0 1056.7 L1697.2 1057.1 L1702.5 1057.2 L1704.8 1057.3 L1707.0 1057.5 L1710.0 1057.9 L1713.0 1058.2 L1715.2 1058.4 L1717.5 1058.5 L1719.9 1059.1 L1722.4 1060.8 L1725.6 1064.1 L1728.9 1067.4 L1731.3 1069.1 L1733.8 1069.8 L1735.6 1069.3 L1737.5 1068.2 L1740.0 1066.0 L1742.5 1063.8 L1744.4 1062.7 L1746.2 1062.2 L1749.1 1062.2 L1751.9 1062.2 L1755.6 1062.2 L1759.4 1062.2 L1762.2 1062.2 L1765.0 1062.2 L1767.6 1062.3 L1770.2 1062.5 L1773.8 1062.9 L1777.2 1063.2 L1779.9 1063.4 L1782.5 1063.5 L1785.1 1063.2 L1787.8 1062.2 L1791.2 1060.4 L1794.8 1058.5 L1797.4 1057.6 L1800.0 1057.2 L1801.9 1058.4 L1803.8 1061.7 L1806.2 1068.1 L1808.8 1074.5 L1810.6 1077.8 L1812.5 1079.0 L1814.8 1078.4 L1817.0 1076.8 L1820.0 1073.8 L1823.0 1070.7 L1825.2 1069.1 L1827.5 1068.5 L1829.0 1068.5"/>
<path class="c" stroke="#008000" d="M287.0 1057.8 L287.5 1057.8 L288.6 1057.6 L289.8 1057.1 L291.2 1056.2 L292.8 1055.3 L293.9 1054.8 L295.0 1054.6 L296.5 1054.3 L298.0 1053.2 L300.0 1051.2 L302.0 1049.2 L303.5 1048.1 L305.0 1047.8 L306.5 1048.0 L308.0 1048.8 L310.0 1050.2 L312.0 1051.7 L313.5 1052.5 L315.0 1052.8 L317.8 1052.3 L320.6 1050.9 L324.4 1048.4 L328.1 1045.8 L330.9 1044.5 L333.8 1044.0 L335.2 1044.4 L336.8 1045.5 L338.8 1047.6 L340.8 1049.8 L342.2 1050.9 L343.8 1051.2 L345.4 1050.9 L347.1 1049.9 L349.4 1047.9 L351.6 1046.0 L353.3 1045.0 L355.0 1044.6 L358.0 1044.7 L361.0 1044.8 L365.0 1044.9 L369.0 1045.1 L372.0 1045.2 L375.0 1045.2 L376.3 1044.7 L377.6 1043.2 L379.4 1040.4 L381.1 1037.5 L382.4 1036.0 L383.8 1035.5 L385.8 1036.1 L387.9 1037.8 L390.6 1041.0 L393.4 1044.2 L395.4 1045.9 L397.5 1046.5 L399.6 1046.0 L401.6 1044.4 L404.4 1041.5 L407.1 1038.6 L409.2 1037.0 L411.2 1036.5 L413.1 1036.8 L415.0 1037.5 L417.5 1039.0 L420.0 1040.5 L421.9 1041.2 L423.8 1041.5 L426.2 1041.2 L428.6 1040.5 L431.9 1039.0 L435.1 1037.5 L437.6 1036.8 L440.0 1036.5 L442.6 1036.8 L445.2 1037.5 L448.8 1039.0 L452.2 1040.5 L454.9 1041.2 L457.5 1041.5 L458.6 1041.4 L459.8 1041.0 L461.2 1040.2 L462.8 1039.5 L463.9 1039.1 L465.0 1039.0 L467.2 1039.2 L469.5 1039.8 L472.5 1040.9 L475.5 1042.0 L477.8 1042.5 L480.0 1042.8 L481.9 1042.5 L483.8 1041.9 L486.2 1040.7 L488.8 1039.5 L490.6 1038.9 L492.5 1038.7 L494.8 1038.8 L497.0 1039.1 L500.0 1039.6 L503.0 1040.2 L505.2 1040.5 L507.5 1040.6 L509.8 1040.3 L512.0 1039.4 L515.0 1037.8 L518.0 1036.1 L520.2 1035.2 L522.5 1034.9 L525.1 1035.6 L527.8 1037.4 L531.2 1040.9 L534.8 1044.4 L537.4 1046.2 L540.0 1046.8 L541.7 1046.5 L543.4 1045.4 L545.6 1043.4 L547.9 1041.3 L549.6 1040.3 L551.2 1039.9 L554.1 1040.4 L556.9 1042.0 L560.6 1044.9 L564.4 1047.9 L567.2 1049.4 L570.0 1050.0 L571.7 1049.4 L573.4 1047.6 L575.6 1044.3 L577.9 1041.0 L579.6 1039.3 L581.2 1038.7 L582.9 1039.1 L584.6 1040.2 L586.9 1042.4 L589.1 1044.7 L590.8 1045.8 L592.5 1046.2 L594.4 1045.5 L596.2 1043.4 L598.8 1039.3 L601.2 1035.2 L603.1 1033.2 L605.0 1032.4 L606.9 1033.2 L608.8 1035.4 L611.2 1039.6 L613.8 1043.9 L615.6 1046.1 L617.5 1046.8 L619.4 1046.1 L621.2 1044.1 L623.8 1040.2 L626.2 1036.4 L628.1 1034.4 L630.0 1033.7 L632.4 1034.4 L634.9 1036.4 L638.1 1040.2 L641.4 1044.1 L643.8 1046.1 L646.2 1046.8 L647.4 1046.1 L648.5 1043.9 L650.0 1039.6 L651.5 1035.4 L652.6 1033.2 L653.8 1032.4 L656.6 1033.2 L659.4 1035.4 L663.1 1039.6 L666.9 1043.9 L669.7 1046.1 L672.5 1046.8 L673.6 1046.1 L674.8 1043.9 L676.2 1039.6 L677.8 1035.4 L678.9 1033.2 L680.0 1032.4 L683.4 1033.3 L686.8 1035.9 L691.2 1040.9 L695.8 1045.9 L699.1 1048.4 L702.5 1049.3 L704.0 1047.7 L705.5 1043.3 L707.5 1034.6 L709.5 1026.0 L711.0 1021.5 L712.5 1019.9 L714.2 1020.7 L715.9 1023.1 L718.1 1027.6 L720.4 1032.1 L722.1 1034.4 L723.8 1035.2 L726.2 1034.5 L728.6 1032.6 L731.9 1028.8 L735.1 1025.0 L737.6 1023.1 L740.0 1022.4 L741.9 1023.5 L743.8 1026.7 L746.2 1032.8 L748.8 1038.8 L750.6 1042.0 L752.5 1043.1 L754.6 1042.1 L756.6 1039.5 L759.4 1034.3 L762.1 1029.1 L764.2 1026.5 L766.2 1025.5 L767.9 1026.6 L769.6 1029.7 L771.9 1035.6 L774.1 1041.5 L775.8 1044.5 L777.5 1045.6 L779.8 1044.1 L782.2 1039.8 L785.3 1031.5 L788.4 1023.2 L790.8 1018.9 L793.1 1017.4 L795.1 1019.1 L797.1 1023.9 L799.7 1033.1 L802.3 1042.3 L804.3 1047.0 L806.2 1048.7 L808.2 1047.0 L810.2 1042.1 L812.8 1032.8 L815.4 1023.4 L817.4 1018.5 L819.4 1016.8 L821.0 1018.4 L822.6 1022.8 L824.7 1031.5 L826.8 1040.2 L828.4 1044.6 L830.0 1046.2 L832.5 1044.8 L835.1 1040.8 L838.4 1033.1 L841.8 1025.3 L844.3 1021.3 L846.9 1019.9 L848.5 1021.4 L850.1 1025.6 L852.2 1033.8 L854.3 1042.0 L855.9 1046.2 L857.5 1047.8 L859.9 1046.2 L862.4 1042.0 L865.6 1033.8 L868.9 1025.6 L871.3 1021.4 L873.8 1019.9 L875.4 1020.9 L877.1 1023.8 L879.4 1029.5 L881.6 1035.1 L883.3 1038.0 L885.0 1039.0 L887.4 1037.6 L889.9 1033.8 L893.1 1026.3 L896.4 1018.9 L898.8 1015.0 L901.2 1013.6 L902.9 1015.2 L904.6 1019.4 L906.9 1027.6 L909.1 1035.8 L910.8 1040.0 L912.5 1041.5 L914.4 1040.3 L916.2 1037.0 L918.8 1030.7 L921.2 1024.4 L923.1 1021.1 L925.0 1019.9 L927.2 1020.8 L929.5 1023.3 L932.5 1028.2 L935.5 1033.1 L937.8 1035.6 L940.0 1036.5 L942.4 1035.6 L944.9 1032.9 L948.1 1027.9 L951.4 1022.8 L953.8 1020.2 L956.2 1019.3 L958.3 1020.1 L960.4 1022.3 L963.1 1026.6 L965.9 1031.0 L967.9 1033.2 L970.0 1034.0 L971.9 1033.4 L973.8 1031.6 L976.2 1028.2 L978.8 1024.8 L980.6 1023.0 L982.5 1022.4 L983.5 1022.6 L984.6 1023.2 L985.9 1024.4 L987.3 1025.7 L988.3 1026.3 L989.4 1026.5 L990.8 1028.6 L992.2 1034.3 L994.1 1045.4 L995.9 1056.5 L997.3 1062.3 L998.8 1064.3 L1000.1 1063.4 L1001.5 1060.7 L1003.2 1055.4 L1005.0 1050.2 L1006.4 1047.5 L1007.8 1046.5 L1010.6 442.8 L1012.5 441.2 L1015.8 1046.5 L1020.8 1093.6 L1022.8 1090.4 L1024.8 1081.5 L1027.6 1064.3 L1030.3 1047.0 L1032.3 1038.1 L1034.4 1034.9 L1036.2 1037.0 L1037.9 1043.0 L1040.3 1054.6 L1042.7 1066.2 L1044.5 1072.2 L1046.2 1074.3 L1048.5 1072.1 L1050.8 1065.7 L1053.8 1053.4 L1056.8 1041.0 L1059.0 1034.7 L1061.2 1032.4 L1063.0 1034.4 L1064.8 1039.9 L1067.2 1050.6 L1069.6 1061.2 L1071.3 1066.7 L1073.1 1068.7 L1075.5 1066.8 L1077.8 1061.6 L1080.9 1051.4 L1084.1 1041.2 L1086.4 1035.9 L1088.8 1034.0 L1090.6 1035.7 L1092.5 1040.5 L1095.0 1049.8 L1097.5 1059.1 L1099.4 1063.9 L1101.2 1065.6 L1103.5 1063.7 L1105.8 1058.6 L1108.8 1048.5 L1111.8 1038.5 L1114.0 1033.4 L1116.2 1031.5 L1117.9 1033.2 L1119.6 1038.0 L1121.9 1047.3 L1124.1 1056.6 L1125.8 1061.4 L1127.5 1063.1 L1129.9 1061.4 L1132.4 1056.6 L1135.6 1047.3 L1138.9 1038.0 L1141.3 1033.2 L1143.8 1031.5 L1145.2 1033.0 L1146.8 1037.2 L1148.8 1045.2 L1150.8 1053.3 L1152.2 1057.5 L1153.8 1059.0 L1156.2 1058.3 L1158.6 1056.2 L1161.9 1052.1 L1165.1 1048.1 L1167.6 1046.0 L1170.0 1045.2 L1171.3 1046.1 L1172.6 1048.3 L1174.4 1052.8 L1176.1 1057.2 L1177.4 1059.4 L1178.8 1060.2 L1181.6 1059.4 L1184.4 1057.0 L1188.1 1052.4 L1191.9 1047.8 L1194.7 1045.5 L1197.5 1044.6 L1198.7 1045.5 L1199.9 1048.1 L1201.6 1053.1 L1203.2 1058.0 L1204.4 1060.6 L1205.6 1061.5 L1208.5 1060.6 L1211.4 1058.3 L1215.3 1053.7 L1219.2 1049.1 L1222.1 1046.7 L1225.0 1045.9 L1226.3 1046.5 L1227.6 1048.3 L1229.4 1051.8 L1231.1 1055.3 L1232.4 1057.1 L1233.8 1057.8 L1236.2 1057.0 L1238.6 1055.0 L1241.9 1051.2 L1245.1 1047.3 L1247.6 1045.3 L1250.0 1044.6 L1251.5 1045.5 L1253.0 1047.8 L1255.0 1052.4 L1257.0 1057.0 L1258.5 1059.4 L1260.0 1060.2 L1262.6 1059.4 L1265.2 1057.2 L1268.8 1052.8 L1272.2 1048.3 L1274.9 1046.1 L1277.5 1045.2 L1279.0 1045.9 L1280.5 1047.6 L1282.5 1050.9 L1284.5 1054.2 L1286.0 1055.9 L1287.5 1056.5 L1290.1 1055.8 L1292.8 1053.8 L1296.2 1050.0 L1299.8 1046.2 L1302.4 1044.2 L1305.0 1043.5 L1306.5 1044.0 L1308.0 1045.4 L1310.0 1048.1 L1312.0 1050.8 L1313.5 1052.2 L1315.0 1052.8 L1317.6 1052.3 L1320.2 1051.2 L1323.8 1049.0 L1327.2 1046.8 L1329.9 1045.7 L1332.5 1045.2 L1334.0 1045.7 L1335.5 1046.8 L1337.5 1049.0 L1339.5 1051.2 L1341.0 1052.3 L1342.5 1052.8 L1344.8 1052.3 L1347.2 1051.1 L1350.3 1048.7 L1353.4 1046.3 L1355.8 1045.1 L1358.1 1044.6 L1361.2 1044.9 L1364.3 1045.6 L1368.4 1047.0 L1372.6 1048.4 L1375.7 1049.1 L1378.8 1049.3 L1379.8 1049.2 L1380.8 1048.7 L1382.2 1047.7 L1383.6 1046.7 L1384.6 1046.2 L1385.6 1046.0 L1388.7 1046.4 L1391.8 1047.5 L1395.9 1049.5 L1400.1 1051.6 L1403.2 1052.7 L1406.2 1053.1 L1407.2 1052.6 L1408.1 1051.4 L1409.4 1048.9 L1410.6 1046.5 L1411.6 1045.2 L1412.5 1044.8 L1415.7 1045.2 L1418.9 1046.5 L1423.1 1048.9 L1427.4 1051.4 L1430.6 1052.6 L1433.8 1053.1 L1438.8 1048.5 L1441.9 1049.0 L1445.1 1050.5 L1449.4 1053.3 L1453.6 1056.1 L1456.8 1057.6 L1460.0 1058.1 L1460.9 1057.4 L1461.9 1055.6 L1463.1 1052.0 L1464.4 1048.5 L1465.3 1046.7 L1466.2 1046.0 L1469.4 1046.5 L1472.6 1047.7 L1476.9 1050.2 L1481.1 1052.6 L1484.3 1053.9 L1487.5 1054.3 L1488.4 1054.1 L1489.4 1053.4 L1490.6 1052.0 L1491.9 1050.7 L1492.8 1050.0 L1493.8 1049.8 L1496.6 1050.3 L1499.4 1051.7 L1503.1 1054.5 L1506.9 1057.4 L1509.7 1058.8 L1512.5 1059.3 L1513.7 1059.0 L1514.9 1057.9 L1516.6 1055.8 L1518.2 1053.7 L1519.4 1052.6 L1520.6 1052.2 L1523.7 1052.5 L1526.8 1053.2 L1530.9 1054.5 L1535.1 1055.9 L1538.2 1056.6 L1541.2 1056.8 L1546.2 1052.2 L1549.8 1053.0 L1553.4 1055.0 L1558.1 1058.9 L1562.9 1062.8 L1566.4 1064.9 L1570.0 1065.6 L1575.0 1054.8 L1577.6 1055.2 L1580.2 1056.5 L1583.8 1058.9 L1587.2 1061.4 L1589.9 1062.6 L1592.5 1063.1 L1593.3 1063.1 L1594.0 1063.2 L1595.1 1063.2 L1596.1 1063.3 L1596.9 1063.4 L1597.6 1063.4 L1599.5 1063.0 L1601.3 1062.1 L1603.8 1060.2 L1606.3 1058.4 L1608.1 1057.5 L1610.0 1057.1 L1612.4 1057.5 L1614.7 1058.7 L1617.9 1060.9 L1621.0 1063.1 L1623.4 1064.2 L1625.8 1064.6 L1627.9 1064.3 L1630.0 1063.3 L1632.9 1061.5 L1635.7 1059.7 L1637.9 1058.7 L1640.0 1058.4 L1644.1 1058.3 L1648.2 1058.2 L1653.8 1058.1 L1659.2 1057.9 L1663.4 1057.8 L1667.5 1057.8 L1672.8 1057.9 L1678.0 1058.3 L1685.0 1059.0 L1692.0 1059.7 L1697.2 1060.1 L1702.5 1060.2 L1704.8 1060.3 L1707.0 1060.5 L1710.0 1060.9 L1713.0 1061.2 L1715.2 1061.4 L1717.5 1061.5 L1719.9 1062.1 L1722.4 1063.8 L1725.6 1067.1 L1728.9 1070.4 L1731.3 1072.1 L1733.8 1072.8 L1735.6 1072.3 L1737.5 1071.2 L1740.0 1069.0 L1742.5 1066.8 L1744.4 1065.7 L1746.2 1065.2 L1749.1 1065.2 L1751.9 1065.2 L1755.6 1065.2 L1759.4 1065.2 L1762.2 1065.2 L1765.0 1065.2 L1767.6 1065.3 L1770.2 1065.5 L1773.8 1065.9 L1777.2 1066.2 L1779.9 1066.4 L1782.5 1066.5 L1785.1 1066.2 L1787.8 1065.2 L1791.2 1063.4 L1794.8 1061.5 L1797.4 1060.6 L1800.0 1060.2 L1801.9 1061.4 L1803.8 1064.7 L1806.2 1071.1 L1808.8 1077.5 L1810.6 1080.8 L1812.5 1082.0 L1814.8 1081.4 L1817.0 1079.8 L1820.0 1076.8 L1823.0 1073.7 L1825.2 1072.1 L1827.5 1071.5 L1829.0 1071.5"/>
<path class="c" stroke="#0000ff" d="M287.0 1028.5 L287.5 1028.5 L292.5 1030.1 L294.4 1029.3 L296.2 1027.3 L298.8 1023.2 L301.2 1019.1 L303.1 1017.0 L305.0 1016.3 L307.2 1017.2 L309.5 1019.6 L312.5 1024.4 L315.5 1029.2 L317.8 1031.7 L320.0 1032.6 L321.8 1031.4 L323.6 1027.9 L325.9 1021.3 L328.3 1014.7 L330.1 1011.3 L331.9 1010.0 L334.0 1011.1 L336.2 1014.0 L339.1 1019.7 L341.9 1025.5 L344.1 1028.4 L346.2 1029.5 L347.8 1028.4 L349.2 1025.5 L351.2 1019.8 L353.2 1014.0 L354.8 1011.1 L356.2 1010.0 L358.7 1011.0 L361.1 1013.8 L364.4 1019.1 L367.6 1024.5 L370.1 1027.2 L372.5 1028.2 L374.6 1027.2 L376.6 1024.3 L379.4 1018.8 L382.1 1013.3 L384.2 1010.4 L386.2 1009.4 L388.1 1010.4 L390.0 1013.0 L392.5 1018.2 L395.0 1023.4 L396.9 1026.0 L398.8 1027.0 L401.0 1025.7 L403.2 1022.3 L406.2 1015.6 L409.2 1008.9 L411.5 1005.4 L413.8 1004.1 L415.4 1005.4 L417.1 1008.9 L419.4 1015.6 L421.6 1022.3 L423.3 1025.7 L425.0 1027.0 L427.2 1025.7 L429.5 1022.1 L432.5 1015.1 L435.5 1008.1 L437.8 1004.4 L440.0 1003.1 L441.7 1004.1 L443.4 1006.6 L445.6 1011.6 L447.9 1016.6 L449.6 1019.2 L451.2 1020.1 L453.3 1019.0 L455.4 1016.1 L458.1 1010.4 L460.9 1004.7 L462.9 1001.7 L465.0 1000.6 L467.1 1001.7 L469.1 1004.7 L471.9 1010.4 L474.6 1016.1 L476.7 1019.0 L478.8 1020.1 L480.8 1018.9 L482.9 1015.6 L485.6 1009.1 L488.4 1002.7 L490.4 999.3 L492.5 998.1 L494.4 999.3 L496.2 1002.4 L498.8 1008.5 L501.2 1014.6 L503.1 1017.7 L505.0 1018.9 L506.9 1017.9 L508.8 1015.1 L511.2 1009.8 L513.8 1004.4 L515.6 1001.6 L517.5 1000.6 L519.8 1002.0 L522.0 1005.7 L525.0 1012.9 L528.0 1020.1 L530.2 1023.8 L532.5 1025.1 L534.6 1023.8 L536.6 1020.1 L539.4 1012.9 L542.1 1005.7 L544.2 1002.0 L546.2 1000.6 L548.3 1001.7 L550.4 1004.7 L553.1 1010.4 L555.9 1016.1 L557.9 1019.0 L560.0 1020.1 L562.0 1018.9 L563.9 1015.6 L566.6 1009.1 L569.2 1002.7 L571.2 999.3 L573.1 998.1 L574.9 999.3 L576.7 1002.7 L579.1 1009.1 L581.4 1015.6 L583.2 1018.9 L585.0 1020.1 L587.2 1018.9 L589.3 1015.6 L592.2 1009.1 L595.1 1002.7 L597.2 999.3 L599.4 998.1 L601.3 999.5 L603.3 1003.2 L605.9 1010.4 L608.6 1017.6 L610.5 1021.3 L612.5 1022.6 L614.7 1021.3 L616.8 1017.6 L619.7 1010.5 L622.6 1003.4 L624.7 999.7 L626.9 998.4 L628.7 999.6 L630.4 1002.9 L632.8 1009.2 L635.2 1015.6 L637.0 1018.9 L638.8 1020.1 L640.9 1019.2 L643.1 1016.8 L645.9 1012.1 L648.8 1007.4 L651.0 1005.0 L653.1 1004.1 L655.1 1005.5 L657.1 1009.2 L659.7 1016.5 L662.3 1023.8 L664.3 1027.5 L666.2 1028.8 L668.2 1027.7 L670.2 1024.5 L672.8 1018.2 L675.4 1011.9 L677.4 1008.7 L679.4 1007.5 L681.5 1008.9 L683.7 1012.7 L686.6 1020.1 L689.4 1027.4 L691.6 1031.2 L693.8 1032.6 L695.4 1032.2 L697.1 1031.2 L699.4 1029.1 L701.6 1027.1 L703.3 1026.0 L705.0 1025.7 L707.1 1026.6 L709.1 1029.1 L711.9 1034.0 L714.6 1038.8 L716.7 1041.3 L718.8 1042.2 L721.2 1042.6 L723.6 1043.4 L726.9 1045.1 L730.1 1046.7 L732.6 1047.6 L735.0 1047.9 L736.3 1048.2 L737.6 1049.0 L739.4 1050.7 L741.1 1052.3 L742.4 1053.2 L743.8 1053.5 L746.2 1053.7 L748.6 1054.1 L751.9 1055.1 L755.1 1056.0 L757.6 1056.5 L760.0 1056.6 L763.0 1057.4 L766.0 1059.7 L770.0 1064.1 L774.0 1068.5 L777.0 1070.8 L780.0 1071.6 L781.7 1071.2 L783.4 1070.0 L785.6 1067.6 L787.9 1065.2 L789.6 1063.9 L791.2 1063.5 L793.3 1064.5 L795.4 1067.1 L798.1 1072.2 L800.9 1077.4 L802.9 1080.0 L805.0 1081.0 L807.2 1079.6 L809.5 1075.8 L812.5 1068.5 L815.5 1061.2 L817.8 1057.4 L820.0 1056.0 L821.5 1056.5 L823.0 1058.1 L825.0 1061.0 L827.0 1063.9 L828.5 1065.5 L830.0 1066.0 L832.2 1064.6 L834.5 1060.6 L837.5 1052.9 L840.5 1045.3 L842.8 1041.3 L845.0 1039.9 L846.5 1040.5 L848.0 1042.3 L850.0 1045.7 L852.0 1049.1 L853.5 1050.9 L855.0 1051.5 L857.4 1050.3 L859.9 1046.9 L863.1 1040.4 L866.4 1033.8 L868.8 1030.5 L871.2 1029.2 L873.1 1030.1 L875.0 1032.5 L877.5 1037.2 L880.0 1042.0 L881.9 1044.4 L883.8 1045.2 L886.0 1044.2 L888.2 1041.4 L891.2 1036.0 L894.2 1030.6 L896.5 1027.8 L898.8 1026.8 L901.2 1027.6 L903.6 1029.9 L906.9 1034.4 L910.1 1039.0 L912.6 1041.3 L915.0 1042.1 L916.7 1041.1 L918.4 1038.2 L920.6 1032.6 L922.9 1026.9 L924.6 1024.0 L926.2 1023.0 L928.1 1024.1 L930.0 1027.3 L932.5 1033.4 L935.0 1039.6 L936.9 1042.7 L938.8 1043.8 L941.2 1042.8 L943.6 1040.0 L946.9 1034.4 L950.1 1028.9 L952.6 1026.1 L955.0 1025.0 L957.4 1026.4 L959.9 1030.3 L963.1 1037.9 L966.4 1045.4 L968.8 1049.3 L971.2 1050.7 L972.8 1050.2 L974.2 1048.8 L976.2 1046.0 L978.2 1043.2 L979.8 1041.8 L981.2 1041.3 L983.7 1042.2 L986.1 1044.9 L989.4 1050.1 L992.6 1055.2 L995.1 1057.9 L997.5 1058.8 L999.4 1057.8 L1001.2 1054.7 L1003.8 1048.8 L1006.2 1042.9 L1008.1 1039.9 L1010.0 1038.8 L1012.1 1039.8 L1014.1 1042.7 L1016.9 1048.2 L1019.6 1053.7 L1021.7 1056.6 L1023.8 1057.6 L1025.6 1056.6 L1027.5 1053.7 L1030.0 1048.2 L1032.5 1042.7 L1034.4 1039.8 L1036.2 1038.8 L1038.3 1039.9 L1040.4 1043.2 L1043.1 1049.4 L1045.9 1055.7 L1047.9 1058.9 L1050.0 1060.1 L1051.9 1059.0 L1053.8 1056.1 L1056.2 1050.4 L1058.8 1044.7 L1060.6 1041.7 L1062.5 1040.7 L1064.6 1041.4 L1066.6 1043.6 L1069.4 1047.9 L1072.1 1052.1 L1074.2 1054.3 L1076.2 1055.1 L1078.3 1053.7 L1080.4 1049.7 L1083.1 1041.9 L1085.9 1034.2 L1087.9 1030.2 L1090.0 1028.8 L1091.9 1030.4 L1093.8 1035.0 L1096.2 1043.8 L1098.8 1052.7 L1100.6 1057.2 L1102.5 1058.8 L1104.8 1057.0 L1107.0 1051.7 L1110.0 1041.6 L1113.0 1031.5 L1115.2 1026.3 L1117.5 1024.4 L1118.8 1026.2 L1120.1 1031.2 L1121.9 1041.0 L1123.6 1050.8 L1124.9 1055.8 L1126.2 1057.6 L1128.9 1055.9 L1131.5 1051.0 L1135.0 1041.6 L1138.5 1032.2 L1141.1 1027.4 L1143.8 1025.7 L1145.6 1027.2 L1147.5 1031.5 L1150.0 1039.8 L1152.5 1048.0 L1154.4 1052.3 L1156.2 1053.8 L1158.3 1052.0 L1160.4 1046.7 L1163.1 1036.6 L1165.9 1026.5 L1167.9 1021.3 L1170.0 1019.4 L1171.9 1021.4 L1173.8 1027.1 L1176.2 1038.2 L1178.8 1049.2 L1180.6 1054.9 L1182.5 1057.0 L1184.8 1054.8 L1187.0 1048.7 L1190.0 1036.9 L1193.0 1025.2 L1195.2 1019.1 L1197.5 1016.9 L1199.3 1019.2 L1201.1 1025.5 L1203.4 1037.9 L1205.8 1050.2 L1207.6 1056.6 L1209.4 1058.8 L1211.7 1056.7 L1214.1 1050.7 L1217.2 1039.1 L1220.3 1027.5 L1222.7 1021.5 L1225.0 1019.4 L1226.9 1021.3 L1228.8 1026.5 L1231.2 1036.6 L1233.8 1046.7 L1235.6 1052.0 L1237.5 1053.8 L1239.4 1051.7 L1241.2 1045.6 L1243.8 1033.8 L1246.2 1022.0 L1248.1 1016.0 L1250.0 1013.8 L1252.0 1016.3 L1253.9 1023.2 L1256.6 1036.6 L1259.2 1050.1 L1261.2 1057.0 L1263.1 1059.5 L1265.3 1057.1 L1267.4 1050.6 L1270.3 1037.9 L1273.2 1025.2 L1275.3 1018.6 L1277.5 1016.3 L1279.4 1018.3 L1281.2 1024.0 L1283.8 1035.1 L1286.2 1046.1 L1288.1 1051.8 L1290.0 1053.8 L1292.2 1051.5 L1294.5 1044.9 L1297.5 1032.2 L1300.5 1019.6 L1302.8 1013.0 L1305.0 1010.6 L1306.7 1013.0 L1308.4 1019.6 L1310.6 1032.2 L1312.9 1044.9 L1314.6 1051.5 L1316.2 1053.8 L1318.7 1051.7 L1321.1 1045.6 L1324.4 1033.8 L1327.6 1022.0 L1330.1 1016.0 L1332.5 1013.8 L1334.3 1016.0 L1336.1 1022.0 L1338.4 1033.8 L1340.8 1045.6 L1342.6 1051.7 L1344.4 1053.8 L1346.4 1051.6 L1348.5 1045.5 L1351.2 1033.5 L1354.0 1021.5 L1356.1 1015.4 L1358.1 1013.1 L1360.3 1015.2 L1362.4 1020.8 L1365.3 1031.6 L1368.2 1042.5 L1370.3 1048.1 L1372.5 1050.1 L1374.5 1048.1 L1376.4 1042.5 L1379.1 1031.6 L1381.7 1020.8 L1383.7 1015.2 L1385.6 1013.1 L1387.6 1015.2 L1389.6 1020.9 L1392.2 1031.9 L1394.8 1043.0 L1396.8 1048.7 L1398.8 1050.7 L1400.8 1048.9 L1402.9 1043.8 L1405.6 1033.8 L1408.4 1023.9 L1410.4 1018.7 L1412.5 1016.9 L1414.6 1018.7 L1416.6 1023.7 L1419.4 1033.5 L1422.1 1043.3 L1424.2 1048.3 L1426.2 1050.1 L1428.1 1048.4 L1430.0 1043.8 L1432.5 1034.8 L1435.0 1025.7 L1436.9 1021.1 L1438.8 1019.4 L1440.6 1021.3 L1442.5 1026.5 L1445.0 1036.6 L1447.5 1046.7 L1449.4 1052.0 L1451.2 1053.8 L1453.5 1052.0 L1455.8 1046.7 L1458.8 1036.6 L1461.8 1026.5 L1464.0 1021.3 L1466.2 1019.4 L1468.1 1020.9 L1470.0 1025.2 L1472.5 1033.5 L1475.0 1041.8 L1476.9 1046.1 L1478.8 1047.6 L1480.8 1046.3 L1482.9 1042.6 L1485.6 1035.4 L1488.4 1028.2 L1490.4 1024.5 L1492.5 1023.2 L1494.7 1024.3 L1496.8 1027.7 L1499.7 1034.1 L1502.6 1040.6 L1504.7 1043.9 L1506.9 1045.1 L1508.9 1043.9 L1511.0 1040.4 L1513.8 1033.8 L1516.5 1027.2 L1518.6 1023.8 L1520.6 1022.5 L1522.7 1023.9 L1524.8 1027.7 L1527.5 1035.1 L1530.2 1042.4 L1532.3 1046.2 L1534.4 1047.6 L1536.2 1046.7 L1537.9 1044.4 L1540.3 1039.8 L1542.7 1035.1 L1544.5 1032.8 L1546.2 1031.9 L1548.5 1032.8 L1550.8 1035.1 L1553.8 1039.8 L1556.8 1044.4 L1559.0 1046.7 L1561.2 1047.6 L1563.3 1046.7 L1565.4 1044.4 L1568.1 1039.8 L1570.9 1035.1 L1572.9 1032.8 L1575.0 1031.9 L1577.2 1032.6 L1579.5 1034.4 L1582.5 1037.9 L1585.5 1041.4 L1587.8 1043.2 L1590.0 1043.8 L1590.8 1043.8 L1591.7 1043.6 L1592.8 1043.2 L1593.9 1042.8 L1594.8 1042.6 L1595.6 1042.5 L1596.8 1042.3 L1597.9 1041.8 L1599.4 1040.9 L1600.9 1039.9 L1602.0 1039.4 L1603.1 1039.2 L1604.2 1039.4 L1605.4 1039.8 L1606.9 1040.6 L1608.4 1041.4 L1609.5 1041.9 L1610.6 1042.0 L1611.8 1041.9 L1612.9 1041.5 L1614.4 1040.8 L1615.9 1040.0 L1617.0 1039.6 L1618.1 1039.5 L1619.5 1040.3 L1620.9 1042.5 L1622.8 1046.8 L1624.7 1051.0 L1626.1 1053.2 L1627.5 1054.0 L1629.4 1052.9 L1631.2 1049.9 L1633.8 1044.1 L1636.2 1038.3 L1638.1 1035.3 L1640.0 1034.2 L1642.2 1037.4 L1644.5 1046.0 L1647.5 1062.8 L1650.5 1079.5 L1652.8 1088.1 L1655.0 1091.2 L1659.4 1038.5 L1666.9 199.0 L1670.6 205.0 L1676.4 1103.2 L1689.4 1024.2 L1691.3 1027.3 L1693.3 1035.7 L1695.9 1051.9 L1698.6 1068.2 L1700.5 1076.6 L1702.5 1079.6 L1704.4 1077.3 L1706.2 1070.8 L1708.8 1058.2 L1711.2 1045.6 L1713.1 1039.1 L1715.0 1036.8 L1717.2 1038.4 L1719.5 1043.0 L1722.5 1051.9 L1725.5 1060.9 L1727.8 1065.5 L1730.0 1067.1 L1731.7 1065.3 L1733.4 1060.2 L1735.6 1050.4 L1737.9 1040.5 L1739.6 1035.5 L1741.2 1033.6 L1743.5 1035.5 L1745.8 1040.5 L1748.8 1050.4 L1751.8 1060.2 L1754.0 1065.3 L1756.2 1067.1 L1758.7 1065.7 L1761.1 1061.6 L1764.4 1053.8 L1767.6 1046.0 L1770.1 1042.0 L1772.5 1040.5 L1774.0 1041.8 L1775.5 1045.3 L1777.5 1052.2 L1779.5 1059.2 L1781.0 1062.7 L1782.5 1064.0 L1785.1 1062.5 L1787.8 1058.4 L1791.2 1050.4 L1794.8 1042.4 L1797.4 1038.2 L1800.0 1036.8 L1802.1 1038.0 L1804.1 1041.3 L1806.9 1047.9 L1809.6 1054.4 L1811.7 1057.8 L1813.8 1059.0 L1815.8 1058.1 L1817.9 1055.5 L1820.6 1050.6 L1823.4 1045.7 L1825.4 1043.2 L1827.5 1042.2 L1829.0 1042.2"/>
<path class="c" stroke="#0000ff" d="M287.0 1031.5 L287.5 1031.5 L292.5 1033.1 L294.4 1032.3 L296.2 1030.3 L298.8 1026.2 L301.2 1022.1 L303.1 1020.0 L305.0 1019.3 L307.2 1020.2 L309.5 1022.6 L312.5 1027.4 L315.5 1032.2 L317.8 1034.7 L320.0 1035.6 L321.8 1034.4 L323.6 1030.9 L325.9 1024.3 L328.3 1017.7 L330.1 1014.3 L331.9 1013.0 L334.0 1014.1 L336.2 1017.0 L339.1 1022.7 L341.9 1028.5 L344.1 1031.4 L346.2 1032.5 L347.8 1031.4 L349.2 1028.5 L351.2 1022.8 L353.2 1017.0 L354.8 1014.1 L356.2 1013.0 L358.7 1014.0 L361.1 1016.8 L364.4 1022.1 L367.6 1027.5 L370.1 1030.2 L372.5 1031.2 L374.6 1030.2 L376.6 1027.3 L379.4 1021.8 L382.1 1016.3 L384.2 1013.4 L386.2 1012.4 L388.1 1013.4 L390.0 1016.0 L392.5 1021.2 L395.0 1026.4 L396.9 1029.0 L398.8 1030.0 L401.0 1028.7 L403.2 1025.3 L406.2 1018.6 L409.2 1011.9 L411.5 1008.4 L413.8 1007.1 L415.4 1008.4 L417.1 1011.9 L419.4 1018.6 L421.6 1025.3 L423.3 1028.7 L425.0 1030.0 L427.2 1028.7 L429.5 1025.1 L432.5 1018.1 L435.5 1011.1 L437.8 1007.4 L440.0 1006.1 L441.7 1007.1 L443.4 1009.6 L445.6 1014.6 L447.9 1019.6 L449.6 1022.2 L451.2 1023.1 L453.3 1022.0 L455.4 1019.1 L458.1 1013.4 L460.9 1007.7 L462.9 1004.7 L465.0 1003.6 L467.1 1004.7 L469.1 1007.7 L471.9 1013.4 L474.6 1019.1 L476.7 1022.0 L478.8 1023.1 L480.8 1021.9 L482.9 1018.6 L485.6 1012.1 L488.4 1005.7 L490.4 1002.3 L492.5 1001.1 L494.4 1002.3 L496.2 1005.4 L498.8 1011.5 L501.2 1017.6 L503.1 1020.7 L505.0 1021.9 L506.9 1020.9 L508.8 1018.1 L511.2 1012.8 L513.8 1007.4 L515.6 1004.6 L517.5 1003.6 L519.8 1005.0 L522.0 1008.7 L525.0 1015.9 L528.0 1023.1 L530.2 1026.8 L532.5 1028.1 L534.6 1026.8 L536.6 1023.1 L539.4 1015.9 L542.1 1008.7 L544.2 1005.0 L546.2 1003.6 L548.3 1004.7 L550.4 1007.7 L553.1 1013.4 L555.9 1019.1 L557.9 1022.0 L560.0 1023.1 L562.0 1021.9 L563.9 1018.6 L566.6 1012.1 L569.2 1005.7 L571.2 1002.3 L573.1 1001.1 L574.9 1002.3 L576.7 1005.7 L579.1 1012.1 L581.4 1018.6 L583.2 1021.9 L585.0 1023.1 L587.2 1021.9 L589.3 1018.6 L592.2 1012.1 L595.1 1005.7 L597.2 1002.3 L599.4 1001.1 L601.3 1002.5 L603.3 1006.2 L605.9 1013.4 L608.6 1020.6 L610.5 1024.3 L612.5 1025.6 L614.7 1024.3 L616.8 1020.6 L619.7 1013.5 L622.6 1006.4 L624.7 1002.7 L626.9 1001.4 L628.7 1002.6 L630.4 1005.9 L632.8 1012.2 L635.2 1018.6 L637.0 1021.9 L638.8 1023.1 L640.9 1022.2 L643.1 1019.8 L645.9 1015.1 L648.8 1010.4 L651.0 1008.0 L653.1 1007.1 L655.1 1008.5 L657.1 1012.2 L659.7 1019.5 L662.3 1026.8 L664.3 1030.5 L666.2 1031.8 L668.2 1030.7 L670.2 1027.5 L672.8 1021.2 L675.4 1014.9 L677.4 1011.7 L679.4 1010.5 L681.5 1011.9 L683.7 1015.7 L686.6 1023.1 L689.4 1030.4 L691.6 1034.2 L693.8 1035.6 L695.4 1035.2 L697.1 1034.2 L699.4 1032.1 L701.6 1030.1 L703.3 1029.0 L705.0 1028.7 L707.1 1029.6 L709.1 1032.1 L711.9 1037.0 L714.6 1041.8 L716.7 1044.3 L718.8 1045.2 L721.2 1045.6 L723.6 1046.4 L726.9 1048.1 L730.1 1049.7 L732.6 1050.6 L735.0 1050.9 L736.3 1051.2 L737.6 1052.0 L739.4 1053.7 L741.1 1055.3 L742.4 1056.2 L743.8 1056.5 L746.2 1056.7 L748.6 1057.1 L751.9 1058.1 L755.1 1059.0 L757.6 1059.5 L760.0 1059.6 L763.0 1060.4 L766.0 1062.7 L770.0 1067.1 L774.0 1071.5 L777.0 1073.8 L780.0 1074.6 L781.7 1074.2 L783.4 1073.0 L785.6 1070.6 L787.9 1068.2 L789.6 1066.9 L791.2 1066.5 L793.3 1067.5 L795.4 1070.1 L798.1 1075.2 L800.9 1080.4 L802.9 1083.0 L805.0 1084.0 L807.2 1082.6 L809.5 1078.8 L812.5 1071.5 L815.5 1064.2 L817.8 1060.4 L820.0 1059.0 L821.5 1059.5 L823.0 1061.1 L825.0 1064.0 L827.0 1066.9 L828.5 1068.5 L830.0 1069.0 L832.2 1067.6 L834.5 1063.6 L837.5 1055.9 L840.5 1048.3 L842.8 1044.3 L845.0 1042.9 L846.5 1043.5 L848.0 1045.3 L850.0 1048.7 L852.0 1052.1 L853.5 1053.9 L855.0 1054.5 L857.4 1053.3 L859.9 1049.9 L863.1 1043.4 L866.4 1036.8 L868.8 1033.5 L871.2 1032.2 L873.1 1033.1 L875.0 1035.5 L877.5 1040.2 L880.0 1045.0 L881.9 1047.4 L883.8 1048.2 L886.0 1047.2 L888.2 1044.4 L891.2 1039.0 L894.2 1033.6 L896.5 1030.8 L898.8 1029.8 L901.2 1030.6 L903.6 1032.9 L906.9 1037.4 L910.1 1042.0 L912.6 1044.3 L915.0 1045.1 L916.7 1044.1 L918.4 1041.2 L920.6 1035.6 L922.9 1029.9 L924.6 1027.0 L926.2 1026.0 L928.1 1027.1 L930.0 1030.3 L932.5 1036.4 L935.0 1042.6 L936.9 1045.7 L938.8 1046.8 L941.2 1045.8 L943.6 1043.0 L946.9 1037.4 L950.1 1031.9 L952.6 1029.1 L955.0 1028.0 L957.4 1029.4 L959.9 1033.3 L963.1 1040.9 L966.4 1048.4 L968.8 1052.3 L971.2 1053.7 L972.8 1053.2 L974.2 1051.8 L976.2 1049.0 L978.2 1046.2 L979.8 1044.8 L981.2 1044.3 L983.7 1045.2 L986.1 1047.9 L989.4 1053.1 L992.6 1058.2 L995.1 1060.9 L997.5 1061.8 L999.4 1060.8 L1001.2 1057.7 L1003.8 1051.8 L1006.2 1045.9 L1008.1 1042.9 L1010.0 1041.8 L1012.1 1042.8 L1014.1 1045.7 L1016.9 1051.2 L1019.6 1056.7 L1021.7 1059.6 L1023.8 1060.6 L1025.6 1059.6 L1027.5 1056.7 L1030.0 1051.2 L1032.5 1045.7 L1034.4 1042.8 L1036.2 1041.8 L1038.3 1042.9 L1040.4 1046.2 L1043.1 1052.4 L1045.9 1058.7 L1047.9 1061.9 L1050.0 1063.1 L1051.9 1062.0 L1053.8 1059.1 L1056.2 1053.4 L1058.8 1047.7 L1060.6 1044.7 L1062.5 1043.7 L1064.6 1044.4 L1066.6 1046.6 L1069.4 1050.9 L1072.1 1055.1 L1074.2 1057.3 L1076.2 1058.1 L1078.3 1056.7 L1080.4 1052.7 L1083.1 1044.9 L1085.9 1037.2 L1087.9 1033.2 L1090.0 1031.8 L1091.9 1033.4 L1093.8 1038.0 L1096.2 1046.8 L1098.8 1055.7 L1100.6 1060.2 L1102.5 1061.8 L1104.8 1060.0 L1107.0 1054.7 L1110.0 1044.6 L1113.0 1034.5 L1115.2 1029.3 L1117.5 1027.4 L1118.8 1029.2 L1120.1 1034.2 L1121.9 1044.0 L1123.6 1053.8 L1124.9 1058.8 L1126.2 1060.6 L1128.9 1058.9 L1131.5 1054.0 L1135.0 1044.6 L1138.5 1035.2 L1141.1 1030.4 L1143.8 1028.7 L1145.6 1030.2 L1147.5 1034.5 L1150.0 1042.8 L1152.5 1051.0 L1154.4 1055.3 L1156.2 1056.8 L1158.3 1055.0 L1160.4 1049.7 L1163.1 1039.6 L1165.9 1029.5 L1167.9 1024.3 L1170.0 1022.4 L1171.9 1024.4 L1173.8 1030.1 L1176.2 1041.2 L1178.8 1052.2 L1180.6 1057.9 L1182.5 1060.0 L1184.8 1057.8 L1187.0 1051.7 L1190.0 1039.9 L1193.0 1028.2 L1195.2 1022.1 L1197.5 1019.9 L1199.3 1022.2 L1201.1 1028.5 L1203.4 1040.9 L1205.8 1053.2 L1207.6 1059.6 L1209.4 1061.8 L1211.7 1059.7 L1214.1 1053.7 L1217.2 1042.1 L1220.3 1030.5 L1222.7 1024.5 L1225.0 1022.4 L1226.9 1024.3 L1228.8 1029.5 L1231.2 1039.6 L1233.8 1049.7 L1235.6 1055.0 L1237.5 1056.8 L1239.4 1054.7 L1241.2 1048.6 L1243.8 1036.8 L1246.2 1025.0 L1248.1 1019.0 L1250.0 1016.8 L1252.0 1019.3 L1253.9 1026.2 L1256.6 1039.6 L1259.2 1053.1 L1261.2 1060.0 L1263.1 1062.5 L1265.3 1060.1 L1267.4 1053.6 L1270.3 1040.9 L1273.2 1028.2 L1275.3 1021.6 L1277.5 1019.3 L1279.4 1021.3 L1281.2 1027.0 L1283.8 1038.1 L1286.2 1049.1 L1288.1 1054.8 L1290.0 1056.8 L1292.2 1054.5 L1294.5 1047.9 L1297.5 1035.2 L1300.5 1022.6 L1302.8 1016.0 L1305.0 1013.6 L1306.7 1016.0 L1308.4 1022.6 L1310.6 1035.2 L1312.9 1047.9 L1314.6 1054.5 L1316.2 1056.8 L1318.7 1054.7 L1321.1 1048.6 L1324.4 1036.8 L1327.6 1025.0 L1330.1 1019.0 L1332.5 1016.8 L1334.3 1019.0 L1336.1 1025.0 L1338.4 1036.8 L1340.8 1048.6 L1342.6 1054.7 L1344.4 1056.8 L1346.4 1054.6 L1348.5 1048.5 L1351.2 1036.5 L1354.0 1024.5 L1356.1 1018.4 L1358.1 1016.1 L1360.3 1018.2 L1362.4 1023.8 L1365.3 1034.6 L1368.2 1045.5 L1370.3 1051.1 L1372.5 1053.1 L1374.5 1051.1 L1376.4 1045.5 L1379.1 1034.6 L1381.7 1023.8 L1383.7 1018.2 L1385.6 1016.1 L1387.6 1018.2 L1389.6 1023.9 L1392.2 1034.9 L1394.8 1046.0 L1396.8 1051.7 L1398.8 1053.7 L1400.8 1051.9 L1402.9 1046.8 L1405.6 1036.8 L1408.4 1026.9 L1410.4 1021.7 L1412.5 1019.9 L1414.6 1021.7 L1416.6 1026.7 L1419.4 1036.5 L1422.1 1046.3 L1424.2 1051.3 L1426.2 1053.1 L1428.1 1051.4 L1430.0 1046.8 L1432.5 1037.8 L1435.0 1028.7 L1436.9 1024.1 L1438.8 1022.4 L1440.6 1024.3 L1442.5 1029.5 L1445.0 1039.6 L1447.5 1049.7 L1449.4 1055.0 L1451.2 1056.8 L1453.5 1055.0 L1455.8 1049.7 L1458.8 1039.6 L1461.8 1029.5 L1464.0 1024.3 L1466.2 1022.4 L1468.1 1023.9 L1470.0 1028.2 L1472.5 1036.5 L1475.0 1044.8 L1476.9 1049.1 L1478.8 1050.6 L1480.8 1049.3 L1482.9 1045.6 L1485.6 1038.4 L1488.4 1031.2 L1490.4 1027.5 L1492.5 1026.2 L1494.7 1027.3 L1496.8 1030.7 L1499.7 1037.1 L1502.6 1043.6 L1504.7 1046.9 L1506.9 1048.1 L1508.9 1046.9 L1511.0 1043.4 L1513.8 1036.8 L1516.5 1030.2 L1518.6 1026.8 L1520.6 1025.5 L1522.7 1026.9 L1524.8 1030.7 L1527.5 1038.1 L1530.2 1045.4 L1532.3 1049.2 L1534.4 1050.6 L1536.2 1049.7 L1537.9 1047.4 L1540.3 1042.8 L1542.7 1038.1 L1544.5 1035.8 L1546.2 1034.9 L1548.5 1035.8 L1550.8 1038.1 L1553.8 1042.8 L1556.8 1047.4 L1559.0 1049.7 L1561.2 1050.6 L1563.3 1049.7 L1565.4 1047.4 L1568.1 1042.8 L1570.9 1038.1 L1572.9 1035.8 L1575.0 1034.9 L1577.2 1035.6 L1579.5 1037.4 L1582.5 1040.9 L1585.5 1044.4 L1587.8 1046.2 L1590.0 1046.8 L1590.8 1046.8 L1591.7 1046.6 L1592.8 1046.2 L1593.9 1045.8 L1594.8 1045.6 L1595.6 1045.5 L1596.8 1045.3 L1597.9 1044.8 L1599.4 1043.9 L1600.9 1042.9 L1602.0 1042.4 L1603.1 1042.2 L1604.2 1042.4 L1605.4 1042.8 L1606.9 1043.6 L1608.4 1044.4 L1609.5 1044.9 L1610.6 1045.0 L1611.8 1044.9 L1612.9 1044.5 L1614.4 1043.8 L1615.9 1043.0 L1617.0 1042.6 L1618.1 1042.5 L1619.5 1043.3 L1620.9 1045.5 L1622.8 1049.8 L1624.7 1054.0 L1626.1 1056.2 L1627.5 1057.0 L1629.4 1055.9 L1631.2 1052.9 L1633.8 1047.1 L1636.2 1041.3 L1638.1 1038.3 L1640.0 1037.2 L1642.2 1040.4 L1644.5 1049.0 L1647.5 1065.8 L1650.5 1082.5 L1652.8 1091.1 L1655.0 1094.2 L1659.4 1041.5 L1666.9 202.0 L1670.6 208.0 L1676.4 1106.2 L1689.4 1027.2 L1691.3 1030.3 L1693.3 1038.7 L1695.9 1054.9 L1698.6 1071.2 L1700.5 1079.6 L1702.5 1082.6 L1704.4 1080.3 L1706.2 1073.8 L1708.8 1061.2 L1711.2 1048.6 L1713.1 1042.1 L1715.0 1039.8 L1717.2 1041.4 L1719.5 1046.0 L1722.5 1054.9 L1725.5 1063.9 L1727.8 1068.5 L1730.0 1070.1 L1731.7 1068.3 L1733.4 1063.2 L1735.6 1053.4 L1737.9 1043.5 L1739.6 1038.5 L1741.2 1036.6 L1743.5 1038.5 L1745.8 1043.5 L1748.8 1053.4 L1751.8 1063.2 L1754.0 1068.3 L1756.2 1070.1 L1758.7 1068.7 L1761.1 1064.6 L1764.4 1056.8 L1767.6 1049.0 L1770.1 1045.0 L1772.5 1043.5 L1774.0 1044.8 L1775.5 1048.3 L1777.5 1055.2 L1779.5 1062.2 L1781.0 1065.7 L1782.5 1067.0 L1785.1 1065.5 L1787.8 1061.4 L1791.2 1053.4 L1794.8 1045.4 L1797.4 1041.2 L1800.0 1039.8 L1802.1 1041.0 L1804.1 1044.3 L1806.9 1050.9 L1809.6 1057.4 L1811.7 1060.8 L1813.8 1062.0 L1815.8 1061.1 L1817.9 1058.5 L1820.6 1053.6 L1823.4 1048.7 L1825.4 1046.2 L1827.5 1045.2 L1829.0 1045.2"/>
</g>
</g>
<g filter="url(#soft2)">
<g>
<line class="t" x1="288.6" y1="1202.6" x2="288.6" y2="1218.7"/>
<line class="t" x1="480.9" y1="1202.6" x2="480.9" y2="1218.7"/>
<line class="t" x1="673.2" y1="1202.6" x2="673.2" y2="1218.7"/>
<line class="t" x1="865.5" y1="1202.6" x2="865.5" y2="1218.7"/>
<line class="t" x1="1057.8" y1="1202.6" x2="1057.8" y2="1218.7"/>
<line class="t" x1="1250.0" y1="1202.6" x2="1250.0" y2="1218.7"/>
<line class="t" x1="1442.3" y1="1202.6" x2="1442.3" y2="1218.7"/>
<line class="t" x1="1634.6" y1="1202.6" x2="1634.6" y2="1218.7"/>
<line class="t" x1="1826.9" y1="1202.6" x2="1826.9" y2="1218.7"/>
<line class="t" x1="272.5" y1="58.3" x2="288.6" y2="58.3"/>
<line class="t" x1="272.5" y1="185.4" x2="288.6" y2="185.4"/>
<line class="t" x1="272.5" y1="312.6" x2="288.6" y2="312.6"/>
<line class="t" x1="272.5" y1="439.7" x2="288.6" y2="439.7"/>
<line class="t" x1="272.5" y1="566.9" x2="288.6" y2="566.9"/>
<line class="t" x1="272.5" y1="694.0" x2="288.6" y2="694.0"/>
<line class="t" x1="272.5" y1="821.2" x2="288.6" y2="821.2"/>
<line class="t" x1="272.5" y1="948.3" x2="288.6" y2="948.3"/>
<line class="t" x1="272.5" y1="1075.5" x2="288.6" y2="1075.5"/>
<line class="t" x1="272.5" y1="1202.6" x2="288.6" y2="1202.6"/>
</g>
<rect class="sp" x="288.6" y="58.3" width="1538.3" height="1144.3"/>
<text class="tk" x="212.1" y="1266.3">1560.0</text>
<text class="tk" x="404.4" y="1266.3">1562.5</text>
<text class="tk" x="596.7" y="1266.3">1565.0</text>
<text class="tk" x="789.0" y="1266.3">1567.5</text>
<text class="tk" x="981.2" y="1266.3">1570.0</text>
<text class="tk" x="1173.5" y="1266.3">1572.5</text>
<text class="tk" x="1365.8" y="1266.3">1575.0</text>
<text class="tk" x="1558.1" y="1266.3">1577.5</text>
<text class="tk" x="1750.4" y="1266.3">1580.0</text>
<text class="tk" x="168.6" y="71.8" dx="0 -2.2 0">−25</text>
<text class="tk" x="168.6" y="198.7" dx="0 -2.2 0">−30</text>
<text class="tk" x="168.6" y="325.8" dx="0 -2.2 0">−35</text>
<text class="tk" x="168.6" y="453.7" dx="0 -2.2 0">−40</text>
<text class="tk" x="168.6" y="580.8" dx="0 -2.2 0">−45</text>
<text class="tk" x="168.6" y="708.0" dx="0 -2.2 0">−50</text>
<text class="tk" x="165.8" y="838.0" dx="0 -2.2 0">−55</text>
<text class="tk" x="168.6" y="964.8" dx="0 -2.2 0">−60</text>
<text class="tk" x="165.8" y="1091.7" dx="0 -2.2 0">−65</text>
<text class="tk" x="168.6" y="1219.8" dx="0 -2.2 0">−70</text>
<text class="lb" x="1054.9" y="1346.5" text-anchor="middle">Wavelength (nm)</text>
<text class="lb" transform="translate(128.9 632.6) rotate(-90)" text-anchor="middle">Power (dBm / 50 pm)</text>
<rect x="310.4" y="80.0" width="409.4" height="206.0" rx="5.5" ry="5.5" fill="#fff" fill-opacity="0.8" stroke="#cccccc" stroke-opacity="0.8" stroke-width="3.4"/>
<line x1="324" y1="113.9" x2="417.4" y2="113.9" stroke="#ff0000" stroke-width="9.3"/>
<text class="lg" x="445.8" y="128.4">a = 386 nm</text>
<line x1="324" y1="178.9" x2="417.4" y2="178.9" stroke="#008000" stroke-width="9.3"/>
<text class="lg" x="445.8" y="193.4">a = 388 nm</text>
<line x1="324" y1="244.0" x2="417.4" y2="244.0" stroke="#0000ff" stroke-width="9.3"/>
<text class="lg" x="445.8" y="258.5">a = 390 nm</text>
</g>
</svg>
</body></html>
